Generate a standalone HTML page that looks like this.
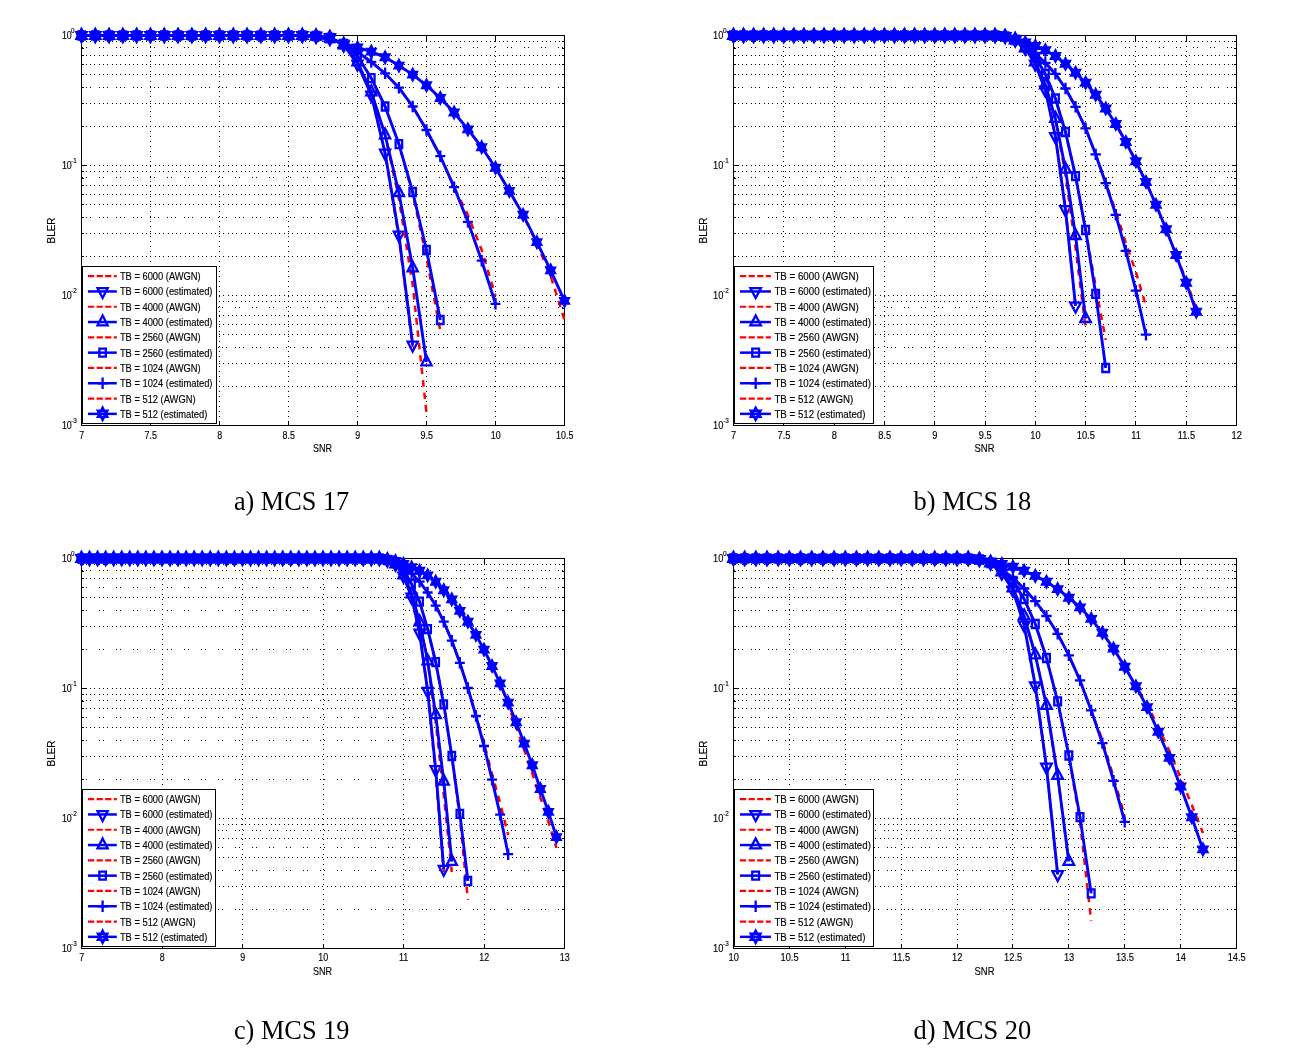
<!DOCTYPE html>
<html><head><meta charset="utf-8"><title>BLER vs SNR</title>
<style>html,body{margin:0;padding:0;background:#fff}body{width:1298px;height:1048px;overflow:hidden;font-family:"Liberation Sans",sans-serif}svg{display:block}#w{will-change:transform;opacity:0.999}</style></head>
<body>
<div id="w">
<svg width="1298" height="1048" viewBox="0 0 1298 1048" font-family="'Liberation Sans', sans-serif" fill="#000">
<rect width="1298" height="1048" fill="#fff"/>
<g>
<path d="M150.5 35.5V425.5M219.5 35.5V425.5M288.5 35.5V425.5M357.5 35.5V425.5M426.5 35.5V425.5M495.5 35.5V425.5" stroke="#000" stroke-width="1" stroke-dasharray="1 4" fill="none" shape-rendering="crispEdges"/>
<path d="M81.5 126.5H564.5M81.5 103.5H564.5M81.5 74.5H564.5M81.5 64.5H564.5M81.5 55.5H564.5M81.5 41.5H564.5M81.5 165.5H564.5M81.5 256.5H564.5M81.5 233.5H564.5M81.5 204.5H564.5M81.5 194.5H564.5M81.5 185.5H564.5M81.5 171.5H564.5M81.5 295.5H564.5M81.5 386.5H564.5M81.5 363.5H564.5M81.5 334.5H564.5M81.5 324.5H564.5M81.5 315.5H564.5M81.5 301.5H564.5" stroke="#000" stroke-width="1" stroke-dasharray="1 3.3" fill="none" shape-rendering="crispEdges"/>
<path d="M81.5 47.5H564.5M81.5 177.5H564.5M81.5 307.5H564.5" stroke="#000" stroke-width="1" stroke-dasharray="1 3.25 1 11.75" fill="none" shape-rendering="crispEdges"/>
<path d="M81.5 87.5H564.5M81.5 217.5H564.5M81.5 347.5H564.5" stroke="#000" stroke-width="1" stroke-dasharray="1 3.25 1 3.25 1 7.5" fill="none" shape-rendering="crispEdges"/>
<path d="M150.5 425.5v-5M150.5 35.5v5M219.5 425.5v-5M219.5 35.5v5M288.5 425.5v-5M288.5 35.5v5M357.5 425.5v-5M357.5 35.5v5M426.5 425.5v-5M426.5 35.5v5M495.5 425.5v-5M495.5 35.5v5M81.5 126.37h2.5M564.5 126.37h-2.5M81.5 103.47h2.5M564.5 103.47h-2.5M81.5 87.23h2.5M564.5 87.23h-2.5M81.5 74.63h2.5M564.5 74.63h-2.5M81.5 64.34h2.5M564.5 64.34h-2.5M81.5 55.64h2.5M564.5 55.64h-2.5M81.5 48.1h2.5M564.5 48.1h-2.5M81.5 41.45h2.5M564.5 41.45h-2.5M81.5 165.5h4.5M564.5 165.5h-4.5M81.5 256.37h2.5M564.5 256.37h-2.5M81.5 233.47h2.5M564.5 233.47h-2.5M81.5 217.23h2.5M564.5 217.23h-2.5M81.5 204.63h2.5M564.5 204.63h-2.5M81.5 194.34h2.5M564.5 194.34h-2.5M81.5 185.64h2.5M564.5 185.64h-2.5M81.5 178.1h2.5M564.5 178.1h-2.5M81.5 171.45h2.5M564.5 171.45h-2.5M81.5 295.5h4.5M564.5 295.5h-4.5M81.5 386.37h2.5M564.5 386.37h-2.5M81.5 363.47h2.5M564.5 363.47h-2.5M81.5 347.23h2.5M564.5 347.23h-2.5M81.5 334.63h2.5M564.5 334.63h-2.5M81.5 324.34h2.5M564.5 324.34h-2.5M81.5 315.64h2.5M564.5 315.64h-2.5M81.5 308.1h2.5M564.5 308.1h-2.5M81.5 301.45h2.5M564.5 301.45h-2.5" stroke="#000" stroke-width="1" fill="none" shape-rendering="crispEdges"/>
<rect x="81.5" y="35.5" width="483" height="390" fill="none" stroke="#000" stroke-width="1" shape-rendering="crispEdges"/>
<path d="M81.5 35.5 L95.3 35.5 L109.1 35.5 L122.9 35.5 L136.7 35.5 L150.5 35.5 L164.3 35.5 L178.1 35.5 L191.9 35.5 L205.7 35.5 L219.5 35.5 L233.3 35.5 L247.1 35.5 L260.9 35.5 L274.7 35.5 L288.5 35.5 L302.3 35.5 L316.1 36 L329.9 37.5 L343.7 45 L357.5 64 L371.3 95 L385.1 153 L398.9 238 L412.7 347" stroke="#ff0000" stroke-width="2.5" stroke-dasharray="6.5 6" fill="none"/>
<path d="M81.5 35.5 L95.3 35.5 L109.1 35.5 L122.9 35.5 L136.7 35.5 L150.5 35.5 L164.3 35.5 L178.1 35.5 L191.9 35.5 L205.7 35.5 L219.5 35.5 L233.3 35.5 L247.1 35.5 L260.9 35.5 L274.7 35.5 L288.5 35.5 L302.3 35.5 L316.1 36 L329.9 37.5 L343.7 45 L357.5 64 L371.3 95 L385.1 153 L398.9 235 L412.7 345" stroke="#0000ff" stroke-width="2.9" fill="none" stroke-linejoin="round"/>
<path d="M81.5 42.1 L76.41 32.2 L86.59 32.2ZM95.3 42.1 L90.21 32.2 L100.39 32.2ZM109.1 42.1 L104.01 32.2 L114.19 32.2ZM122.9 42.1 L117.81 32.2 L127.99 32.2ZM136.7 42.1 L131.61 32.2 L141.79 32.2ZM150.5 42.1 L145.41 32.2 L155.59 32.2ZM164.3 42.1 L159.21 32.2 L169.39 32.2ZM178.1 42.1 L173.01 32.2 L183.19 32.2ZM191.9 42.1 L186.81 32.2 L196.99 32.2ZM205.7 42.1 L200.61 32.2 L210.79 32.2ZM219.5 42.1 L214.41 32.2 L224.59 32.2ZM233.3 42.1 L228.21 32.2 L238.39 32.2ZM247.1 42.1 L242.01 32.2 L252.19 32.2ZM260.9 42.1 L255.81 32.2 L265.99 32.2ZM274.7 42.1 L269.61 32.2 L279.79 32.2ZM288.5 42.1 L283.41 32.2 L293.59 32.2ZM302.3 42.1 L297.21 32.2 L307.39 32.2ZM316.1 42.6 L311.01 32.7 L321.19 32.7ZM329.9 44.1 L324.81 34.2 L334.99 34.2ZM343.7 51.6 L338.61 41.7 L348.79 41.7ZM357.5 70.6 L352.41 60.7 L362.59 60.7ZM371.3 101.6 L366.21 91.7 L376.39 91.7ZM385.1 159.6 L380.01 149.7 L390.19 149.7ZM398.9 241.6 L393.81 231.7 L403.99 231.7ZM412.7 351.6 L407.61 341.7 L417.79 341.7Z" stroke="#0000ff" stroke-width="2.3" fill="none" stroke-miterlimit="10"/>
<path d="M81.5 35.5 L95.3 35.5 L109.1 35.5 L122.9 35.5 L136.7 35.5 L150.5 35.5 L164.3 35.5 L178.1 35.5 L191.9 35.5 L205.7 35.5 L219.5 35.5 L233.3 35.5 L247.1 35.5 L260.9 35.5 L274.7 35.5 L288.5 35.5 L302.3 35.5 L316.1 36 L329.9 37.5 L343.7 45 L357.5 62 L371.3 92 L385.1 135 L398.9 199 L412.7 285 L426.5 413" stroke="#ff0000" stroke-width="2.5" stroke-dasharray="6.5 6" fill="none"/>
<path d="M81.5 35.5 L95.3 35.5 L109.1 35.5 L122.9 35.5 L136.7 35.5 L150.5 35.5 L164.3 35.5 L178.1 35.5 L191.9 35.5 L205.7 35.5 L219.5 35.5 L233.3 35.5 L247.1 35.5 L260.9 35.5 L274.7 35.5 L288.5 35.5 L302.3 35.5 L316.1 36 L329.9 37.5 L343.7 45 L357.5 62 L371.3 92 L385.1 135 L398.9 192.8 L412.7 268 L426.5 362" stroke="#0000ff" stroke-width="2.9" fill="none" stroke-linejoin="round"/>
<path d="M81.5 28.9 L76.41 38.8 L86.59 38.8ZM95.3 28.9 L90.21 38.8 L100.39 38.8ZM109.1 28.9 L104.01 38.8 L114.19 38.8ZM122.9 28.9 L117.81 38.8 L127.99 38.8ZM136.7 28.9 L131.61 38.8 L141.79 38.8ZM150.5 28.9 L145.41 38.8 L155.59 38.8ZM164.3 28.9 L159.21 38.8 L169.39 38.8ZM178.1 28.9 L173.01 38.8 L183.19 38.8ZM191.9 28.9 L186.81 38.8 L196.99 38.8ZM205.7 28.9 L200.61 38.8 L210.79 38.8ZM219.5 28.9 L214.41 38.8 L224.59 38.8ZM233.3 28.9 L228.21 38.8 L238.39 38.8ZM247.1 28.9 L242.01 38.8 L252.19 38.8ZM260.9 28.9 L255.81 38.8 L265.99 38.8ZM274.7 28.9 L269.61 38.8 L279.79 38.8ZM288.5 28.9 L283.41 38.8 L293.59 38.8ZM302.3 28.9 L297.21 38.8 L307.39 38.8ZM316.1 29.4 L311.01 39.3 L321.19 39.3ZM329.9 30.9 L324.81 40.8 L334.99 40.8ZM343.7 38.4 L338.61 48.3 L348.79 48.3ZM357.5 55.4 L352.41 65.3 L362.59 65.3ZM371.3 85.4 L366.21 95.3 L376.39 95.3ZM385.1 128.4 L380.01 138.3 L390.19 138.3ZM398.9 186.2 L393.81 196.1 L403.99 196.1ZM412.7 261.4 L407.61 271.3 L417.79 271.3ZM426.5 355.4 L421.41 365.3 L431.59 365.3Z" stroke="#0000ff" stroke-width="2.3" fill="none" stroke-miterlimit="10"/>
<path d="M81.5 35.5 L95.3 35.5 L109.1 35.5 L122.9 35.5 L136.7 35.5 L150.5 35.5 L164.3 35.5 L178.1 35.5 L191.9 35.5 L205.7 35.5 L219.5 35.5 L233.3 35.5 L247.1 35.5 L260.9 35.5 L274.7 35.5 L288.5 35.5 L302.3 35.5 L316.1 36 L329.9 38 L343.7 44 L357.5 56 L371.3 78.2 L385.1 106.5 L398.9 144.1 L412.7 194 L426.5 258 L440.3 331" stroke="#ff0000" stroke-width="2.5" stroke-dasharray="6.5 6" fill="none"/>
<path d="M81.5 35.5 L95.3 35.5 L109.1 35.5 L122.9 35.5 L136.7 35.5 L150.5 35.5 L164.3 35.5 L178.1 35.5 L191.9 35.5 L205.7 35.5 L219.5 35.5 L233.3 35.5 L247.1 35.5 L260.9 35.5 L274.7 35.5 L288.5 35.5 L302.3 35.5 L316.1 36 L329.9 38 L343.7 44 L357.5 56 L371.3 78.2 L385.1 106.5 L398.9 144.1 L412.7 192 L426.5 250 L440.3 320" stroke="#0000ff" stroke-width="2.9" fill="none" stroke-linejoin="round"/>
<path d="M78.25 31.5h6.5v8h-6.5ZM92.05 31.5h6.5v8h-6.5ZM105.85 31.5h6.5v8h-6.5ZM119.65 31.5h6.5v8h-6.5ZM133.45 31.5h6.5v8h-6.5ZM147.25 31.5h6.5v8h-6.5ZM161.05 31.5h6.5v8h-6.5ZM174.85 31.5h6.5v8h-6.5ZM188.65 31.5h6.5v8h-6.5ZM202.45 31.5h6.5v8h-6.5ZM216.25 31.5h6.5v8h-6.5ZM230.05 31.5h6.5v8h-6.5ZM243.85 31.5h6.5v8h-6.5ZM257.65 31.5h6.5v8h-6.5ZM271.45 31.5h6.5v8h-6.5ZM285.25 31.5h6.5v8h-6.5ZM299.05 31.5h6.5v8h-6.5ZM312.85 32h6.5v8h-6.5ZM326.65 34h6.5v8h-6.5ZM340.45 40h6.5v8h-6.5ZM354.25 52h6.5v8h-6.5ZM368.05 74.2h6.5v8h-6.5ZM381.85 102.5h6.5v8h-6.5ZM395.65 140.1h6.5v8h-6.5ZM409.45 188h6.5v8h-6.5ZM423.25 246h6.5v8h-6.5ZM437.05 316h6.5v8h-6.5Z" stroke="#0000ff" stroke-width="2.3" fill="none" stroke-miterlimit="10"/>
<path d="M81.5 35.5 L95.3 35.5 L109.1 35.5 L122.9 35.5 L136.7 35.5 L150.5 35.5 L164.3 35.5 L178.1 35.5 L191.9 35.5 L205.7 35.5 L219.5 35.5 L233.3 35.5 L247.1 35.5 L260.9 35.5 L274.7 35.5 L288.5 35.5 L302.3 35.5 L316.1 36.5 L329.9 39 L343.7 44 L357.5 52 L371.3 62 L385.1 73.3 L398.9 87.7 L412.7 106.5 L426.5 130 L440.3 156.2 L454.1 187.1 L467.9 215 L481.7 250 L495.5 296" stroke="#ff0000" stroke-width="2.5" stroke-dasharray="6.5 6" fill="none"/>
<path d="M81.5 35.5 L95.3 35.5 L109.1 35.5 L122.9 35.5 L136.7 35.5 L150.5 35.5 L164.3 35.5 L178.1 35.5 L191.9 35.5 L205.7 35.5 L219.5 35.5 L233.3 35.5 L247.1 35.5 L260.9 35.5 L274.7 35.5 L288.5 35.5 L302.3 35.5 L316.1 36.5 L329.9 39 L343.7 44 L357.5 52 L371.3 62 L385.1 73.3 L398.9 87.7 L412.7 106.5 L426.5 130 L440.3 156.2 L454.1 187.1 L467.9 221.8 L481.7 260.7 L495.5 303.8" stroke="#0000ff" stroke-width="2.9" fill="none" stroke-linejoin="round"/>
<path d="M76.5 35.5h10M81.5 29.8v11.4M90.3 35.5h10M95.3 29.8v11.4M104.1 35.5h10M109.1 29.8v11.4M117.9 35.5h10M122.9 29.8v11.4M131.7 35.5h10M136.7 29.8v11.4M145.5 35.5h10M150.5 29.8v11.4M159.3 35.5h10M164.3 29.8v11.4M173.1 35.5h10M178.1 29.8v11.4M186.9 35.5h10M191.9 29.8v11.4M200.7 35.5h10M205.7 29.8v11.4M214.5 35.5h10M219.5 29.8v11.4M228.3 35.5h10M233.3 29.8v11.4M242.1 35.5h10M247.1 29.8v11.4M255.9 35.5h10M260.9 29.8v11.4M269.7 35.5h10M274.7 29.8v11.4M283.5 35.5h10M288.5 29.8v11.4M297.3 35.5h10M302.3 29.8v11.4M311.1 36.5h10M316.1 30.8v11.4M324.9 39h10M329.9 33.3v11.4M338.7 44h10M343.7 38.3v11.4M352.5 52h10M357.5 46.3v11.4M366.3 62h10M371.3 56.3v11.4M380.1 73.3h10M385.1 67.6v11.4M393.9 87.7h10M398.9 82v11.4M407.7 106.5h10M412.7 100.8v11.4M421.5 130h10M426.5 124.3v11.4M435.3 156.2h10M440.3 150.5v11.4M449.1 187.1h10M454.1 181.4v11.4M462.9 221.8h10M467.9 216.1v11.4M476.7 260.7h10M481.7 255v11.4M490.5 303.8h10M495.5 298.1v11.4" stroke="#0000ff" stroke-width="2.3" fill="none" stroke-miterlimit="10"/>
<path d="M81.5 35.5 L95.3 35.5 L109.1 35.5 L122.9 35.5 L136.7 35.5 L150.5 35.5 L164.3 35.5 L178.1 35.5 L191.9 35.5 L205.7 35.5 L219.5 35.5 L233.3 35.5 L247.1 35.5 L260.9 35.5 L274.7 35.5 L288.5 35.5 L302.3 35.5 L316.1 36.9 L329.9 39.3 L343.7 43.5 L357.5 47.5 L371.3 51.6 L385.1 57.3 L398.9 65.6 L412.7 74.6 L426.5 85.3 L440.3 98 L454.1 112.5 L467.9 129.4 L481.7 147.2 L495.5 167.8 L509.3 190.9 L523.1 214.8 L536.9 244 L550.7 276 L564.5 320" stroke="#ff0000" stroke-width="2.5" stroke-dasharray="6.5 6" fill="none"/>
<path d="M81.5 35.5 L95.3 35.5 L109.1 35.5 L122.9 35.5 L136.7 35.5 L150.5 35.5 L164.3 35.5 L178.1 35.5 L191.9 35.5 L205.7 35.5 L219.5 35.5 L233.3 35.5 L247.1 35.5 L260.9 35.5 L274.7 35.5 L288.5 35.5 L302.3 35.5 L316.1 36.9 L329.9 39.3 L343.7 43.5 L357.5 47.5 L371.3 51.6 L385.1 57.3 L398.9 65.6 L412.7 74.6 L426.5 85.3 L440.3 98 L454.1 112.5 L467.9 129.4 L481.7 147.2 L495.5 167.8 L509.3 190.9 L523.1 214.8 L536.9 242.1 L550.7 270.4 L564.5 300.9" stroke="#0000ff" stroke-width="2.9" fill="none" stroke-linejoin="round"/>
<path d="M81.5 29.9 L82.94 32.7 L85.82 32.7 L84.38 35.5 L85.82 38.3 L82.94 38.3 L81.5 41.1 L80.06 38.3 L77.18 38.3 L78.62 35.5 L77.18 32.7 L80.06 32.7ZM95.3 29.9 L96.74 32.7 L99.62 32.7 L98.18 35.5 L99.62 38.3 L96.74 38.3 L95.3 41.1 L93.86 38.3 L90.98 38.3 L92.42 35.5 L90.98 32.7 L93.86 32.7ZM109.1 29.9 L110.54 32.7 L113.42 32.7 L111.98 35.5 L113.42 38.3 L110.54 38.3 L109.1 41.1 L107.66 38.3 L104.78 38.3 L106.22 35.5 L104.78 32.7 L107.66 32.7ZM122.9 29.9 L124.34 32.7 L127.22 32.7 L125.78 35.5 L127.22 38.3 L124.34 38.3 L122.9 41.1 L121.46 38.3 L118.58 38.3 L120.02 35.5 L118.58 32.7 L121.46 32.7ZM136.7 29.9 L138.14 32.7 L141.02 32.7 L139.58 35.5 L141.02 38.3 L138.14 38.3 L136.7 41.1 L135.26 38.3 L132.38 38.3 L133.82 35.5 L132.38 32.7 L135.26 32.7ZM150.5 29.9 L151.94 32.7 L154.82 32.7 L153.38 35.5 L154.82 38.3 L151.94 38.3 L150.5 41.1 L149.06 38.3 L146.18 38.3 L147.62 35.5 L146.18 32.7 L149.06 32.7ZM164.3 29.9 L165.74 32.7 L168.62 32.7 L167.18 35.5 L168.62 38.3 L165.74 38.3 L164.3 41.1 L162.86 38.3 L159.98 38.3 L161.42 35.5 L159.98 32.7 L162.86 32.7ZM178.1 29.9 L179.54 32.7 L182.42 32.7 L180.98 35.5 L182.42 38.3 L179.54 38.3 L178.1 41.1 L176.66 38.3 L173.78 38.3 L175.22 35.5 L173.78 32.7 L176.66 32.7ZM191.9 29.9 L193.34 32.7 L196.22 32.7 L194.78 35.5 L196.22 38.3 L193.34 38.3 L191.9 41.1 L190.46 38.3 L187.58 38.3 L189.02 35.5 L187.58 32.7 L190.46 32.7ZM205.7 29.9 L207.14 32.7 L210.02 32.7 L208.58 35.5 L210.02 38.3 L207.14 38.3 L205.7 41.1 L204.26 38.3 L201.38 38.3 L202.82 35.5 L201.38 32.7 L204.26 32.7ZM219.5 29.9 L220.94 32.7 L223.82 32.7 L222.38 35.5 L223.82 38.3 L220.94 38.3 L219.5 41.1 L218.06 38.3 L215.18 38.3 L216.62 35.5 L215.18 32.7 L218.06 32.7ZM233.3 29.9 L234.74 32.7 L237.62 32.7 L236.18 35.5 L237.62 38.3 L234.74 38.3 L233.3 41.1 L231.86 38.3 L228.98 38.3 L230.42 35.5 L228.98 32.7 L231.86 32.7ZM247.1 29.9 L248.54 32.7 L251.42 32.7 L249.98 35.5 L251.42 38.3 L248.54 38.3 L247.1 41.1 L245.66 38.3 L242.78 38.3 L244.22 35.5 L242.78 32.7 L245.66 32.7ZM260.9 29.9 L262.34 32.7 L265.22 32.7 L263.78 35.5 L265.22 38.3 L262.34 38.3 L260.9 41.1 L259.46 38.3 L256.58 38.3 L258.02 35.5 L256.58 32.7 L259.46 32.7ZM274.7 29.9 L276.14 32.7 L279.02 32.7 L277.58 35.5 L279.02 38.3 L276.14 38.3 L274.7 41.1 L273.26 38.3 L270.38 38.3 L271.82 35.5 L270.38 32.7 L273.26 32.7ZM288.5 29.9 L289.94 32.7 L292.82 32.7 L291.38 35.5 L292.82 38.3 L289.94 38.3 L288.5 41.1 L287.06 38.3 L284.18 38.3 L285.62 35.5 L284.18 32.7 L287.06 32.7ZM302.3 29.9 L303.74 32.7 L306.62 32.7 L305.18 35.5 L306.62 38.3 L303.74 38.3 L302.3 41.1 L300.86 38.3 L297.98 38.3 L299.42 35.5 L297.98 32.7 L300.86 32.7ZM316.1 31.3 L317.54 34.1 L320.42 34.1 L318.98 36.9 L320.42 39.7 L317.54 39.7 L316.1 42.5 L314.66 39.7 L311.78 39.7 L313.22 36.9 L311.78 34.1 L314.66 34.1ZM329.9 33.7 L331.34 36.5 L334.22 36.5 L332.78 39.3 L334.22 42.1 L331.34 42.1 L329.9 44.9 L328.46 42.1 L325.58 42.1 L327.02 39.3 L325.58 36.5 L328.46 36.5ZM343.7 37.9 L345.14 40.7 L348.02 40.7 L346.58 43.5 L348.02 46.3 L345.14 46.3 L343.7 49.1 L342.26 46.3 L339.38 46.3 L340.82 43.5 L339.38 40.7 L342.26 40.7ZM357.5 41.9 L358.94 44.7 L361.82 44.7 L360.38 47.5 L361.82 50.3 L358.94 50.3 L357.5 53.1 L356.06 50.3 L353.18 50.3 L354.62 47.5 L353.18 44.7 L356.06 44.7ZM371.3 46 L372.74 48.8 L375.62 48.8 L374.18 51.6 L375.62 54.4 L372.74 54.4 L371.3 57.2 L369.86 54.4 L366.98 54.4 L368.42 51.6 L366.98 48.8 L369.86 48.8ZM385.1 51.7 L386.54 54.5 L389.42 54.5 L387.98 57.3 L389.42 60.1 L386.54 60.1 L385.1 62.9 L383.66 60.1 L380.78 60.1 L382.22 57.3 L380.78 54.5 L383.66 54.5ZM398.9 60 L400.34 62.8 L403.22 62.8 L401.78 65.6 L403.22 68.4 L400.34 68.4 L398.9 71.2 L397.46 68.4 L394.58 68.4 L396.02 65.6 L394.58 62.8 L397.46 62.8ZM412.7 69 L414.14 71.8 L417.02 71.8 L415.58 74.6 L417.02 77.4 L414.14 77.4 L412.7 80.2 L411.26 77.4 L408.38 77.4 L409.82 74.6 L408.38 71.8 L411.26 71.8ZM426.5 79.7 L427.94 82.5 L430.82 82.5 L429.38 85.3 L430.82 88.1 L427.94 88.1 L426.5 90.9 L425.06 88.1 L422.18 88.1 L423.62 85.3 L422.18 82.5 L425.06 82.5ZM440.3 92.4 L441.74 95.2 L444.62 95.2 L443.18 98 L444.62 100.8 L441.74 100.8 L440.3 103.6 L438.86 100.8 L435.98 100.8 L437.42 98 L435.98 95.2 L438.86 95.2ZM454.1 106.9 L455.54 109.7 L458.42 109.7 L456.98 112.5 L458.42 115.3 L455.54 115.3 L454.1 118.1 L452.66 115.3 L449.78 115.3 L451.22 112.5 L449.78 109.7 L452.66 109.7ZM467.9 123.8 L469.34 126.6 L472.22 126.6 L470.78 129.4 L472.22 132.2 L469.34 132.2 L467.9 135 L466.46 132.2 L463.58 132.2 L465.02 129.4 L463.58 126.6 L466.46 126.6ZM481.7 141.6 L483.14 144.4 L486.02 144.4 L484.58 147.2 L486.02 150 L483.14 150 L481.7 152.8 L480.26 150 L477.38 150 L478.82 147.2 L477.38 144.4 L480.26 144.4ZM495.5 162.2 L496.94 165 L499.82 165 L498.38 167.8 L499.82 170.6 L496.94 170.6 L495.5 173.4 L494.06 170.6 L491.18 170.6 L492.62 167.8 L491.18 165 L494.06 165ZM509.3 185.3 L510.74 188.1 L513.62 188.1 L512.18 190.9 L513.62 193.7 L510.74 193.7 L509.3 196.5 L507.86 193.7 L504.98 193.7 L506.42 190.9 L504.98 188.1 L507.86 188.1ZM523.1 209.2 L524.54 212 L527.42 212 L525.98 214.8 L527.42 217.6 L524.54 217.6 L523.1 220.4 L521.66 217.6 L518.78 217.6 L520.22 214.8 L518.78 212 L521.66 212ZM536.9 236.5 L538.34 239.3 L541.22 239.3 L539.78 242.1 L541.22 244.9 L538.34 244.9 L536.9 247.7 L535.46 244.9 L532.58 244.9 L534.02 242.1 L532.58 239.3 L535.46 239.3ZM550.7 264.8 L552.14 267.6 L555.02 267.6 L553.58 270.4 L555.02 273.2 L552.14 273.2 L550.7 276 L549.26 273.2 L546.38 273.2 L547.82 270.4 L546.38 267.6 L549.26 267.6ZM564.5 295.3 L565.94 298.1 L568.82 298.1 L567.38 300.9 L568.82 303.7 L565.94 303.7 L564.5 306.5 L563.06 303.7 L560.18 303.7 L561.62 300.9 L560.18 298.1 L563.06 298.1Z" stroke="#0000ff" stroke-width="2.3" fill="#0000ff" stroke-miterlimit="10"/>
<rect x="82.5" y="266.5" width="134" height="157" fill="#fff" stroke="#000" stroke-width="1" shape-rendering="crispEdges"/>
<path d="M88 276.15H116.8" stroke="#ff0000" stroke-width="2.2" stroke-dasharray="6.2 2.4" fill="none"/>
<text transform="translate(119.9 280.15) scale(0.85 1)" font-size="11" text-anchor="start" stroke="#000" stroke-width="0.15" >TB = 6000 (AWGN)</text>
<path d="M88 291.45H116.8" stroke="#0000ff" stroke-width="2.5" fill="none"/>
<path d="M102.6 298.05 L97.51 288.15 L107.69 288.15Z" stroke="#0000ff" stroke-width="2.3" fill="none" stroke-miterlimit="10"/>
<text transform="translate(119.9 295.45) scale(0.85 1)" font-size="11" text-anchor="start" stroke="#000" stroke-width="0.15" >TB = 6000 (estimated)</text>
<path d="M88 306.75H116.8" stroke="#ff0000" stroke-width="2.2" stroke-dasharray="6.2 2.4" fill="none"/>
<text transform="translate(119.9 310.75) scale(0.85 1)" font-size="11" text-anchor="start" stroke="#000" stroke-width="0.15" >TB = 4000 (AWGN)</text>
<path d="M88 322.05H116.8" stroke="#0000ff" stroke-width="2.5" fill="none"/>
<path d="M102.6 315.45 L97.51 325.35 L107.69 325.35Z" stroke="#0000ff" stroke-width="2.3" fill="none" stroke-miterlimit="10"/>
<text transform="translate(119.9 326.05) scale(0.85 1)" font-size="11" text-anchor="start" stroke="#000" stroke-width="0.15" >TB = 4000 (estimated)</text>
<path d="M88 337.35H116.8" stroke="#ff0000" stroke-width="2.2" stroke-dasharray="6.2 2.4" fill="none"/>
<text transform="translate(119.9 341.35) scale(0.85 1)" font-size="11" text-anchor="start" stroke="#000" stroke-width="0.15" >TB = 2560 (AWGN)</text>
<path d="M88 352.65H116.8" stroke="#0000ff" stroke-width="2.5" fill="none"/>
<path d="M99.35 348.65h6.5v8h-6.5Z" stroke="#0000ff" stroke-width="2.3" fill="none" stroke-miterlimit="10"/>
<text transform="translate(119.9 356.65) scale(0.85 1)" font-size="11" text-anchor="start" stroke="#000" stroke-width="0.15" >TB = 2560 (estimated)</text>
<path d="M88 367.95H116.8" stroke="#ff0000" stroke-width="2.2" stroke-dasharray="6.2 2.4" fill="none"/>
<text transform="translate(119.9 371.95) scale(0.85 1)" font-size="11" text-anchor="start" stroke="#000" stroke-width="0.15" >TB = 1024 (AWGN)</text>
<path d="M88 383.25H116.8" stroke="#0000ff" stroke-width="2.5" fill="none"/>
<path d="M97.6 383.25h10M102.6 377.55v11.4" stroke="#0000ff" stroke-width="2.3" fill="none" stroke-miterlimit="10"/>
<text transform="translate(119.9 387.25) scale(0.85 1)" font-size="11" text-anchor="start" stroke="#000" stroke-width="0.15" >TB = 1024 (estimated)</text>
<path d="M88 398.55H116.8" stroke="#ff0000" stroke-width="2.2" stroke-dasharray="6.2 2.4" fill="none"/>
<text transform="translate(119.9 402.55) scale(0.85 1)" font-size="11" text-anchor="start" stroke="#000" stroke-width="0.15" >TB = 512 (AWGN)</text>
<path d="M88 413.85H116.8" stroke="#0000ff" stroke-width="2.5" fill="none"/>
<path d="M102.6 408.25 L104.04 411.05 L106.92 411.05 L105.48 413.85 L106.92 416.65 L104.04 416.65 L102.6 419.45 L101.16 416.65 L98.28 416.65 L99.72 413.85 L98.28 411.05 L101.16 411.05Z" stroke="#0000ff" stroke-width="2.9" fill="none" stroke-miterlimit="10"/>
<text transform="translate(119.9 417.85) scale(0.85 1)" font-size="11" text-anchor="start" stroke="#000" stroke-width="0.15" >TB = 512 (estimated)</text>
<text transform="translate(81.7 439) scale(0.81 1)" font-size="11" text-anchor="middle" stroke="#000" stroke-width="0.15" >7</text>
<text transform="translate(150.7 439) scale(0.81 1)" font-size="11" text-anchor="middle" stroke="#000" stroke-width="0.15" >7.5</text>
<text transform="translate(219.7 439) scale(0.81 1)" font-size="11" text-anchor="middle" stroke="#000" stroke-width="0.15" >8</text>
<text transform="translate(288.7 439) scale(0.81 1)" font-size="11" text-anchor="middle" stroke="#000" stroke-width="0.15" >8.5</text>
<text transform="translate(357.7 439) scale(0.81 1)" font-size="11" text-anchor="middle" stroke="#000" stroke-width="0.15" >9</text>
<text transform="translate(426.7 439) scale(0.81 1)" font-size="11" text-anchor="middle" stroke="#000" stroke-width="0.15" >9.5</text>
<text transform="translate(495.7 439) scale(0.81 1)" font-size="11" text-anchor="middle" stroke="#000" stroke-width="0.15" >10</text>
<text transform="translate(564.7 439) scale(0.81 1)" font-size="11" text-anchor="middle" stroke="#000" stroke-width="0.15" >10.5</text>
<text transform="translate(61.9 39) scale(0.81 1)" font-size="11" text-anchor="start" stroke="#000" stroke-width="0.15" >10</text>
<text transform="translate(71.1 33) scale(0.85 1)" font-size="7.5" text-anchor="start" stroke="#000" stroke-width="0.15" >0</text>
<text transform="translate(61.9 169) scale(0.81 1)" font-size="11" text-anchor="start" stroke="#000" stroke-width="0.15" >10</text>
<text transform="translate(71.1 163) scale(0.85 1)" font-size="7.5" text-anchor="start" stroke="#000" stroke-width="0.15" >-1</text>
<text transform="translate(61.9 299) scale(0.81 1)" font-size="11" text-anchor="start" stroke="#000" stroke-width="0.15" >10</text>
<text transform="translate(71.1 293) scale(0.85 1)" font-size="7.5" text-anchor="start" stroke="#000" stroke-width="0.15" >-2</text>
<text transform="translate(61.9 429) scale(0.81 1)" font-size="11" text-anchor="start" stroke="#000" stroke-width="0.15" >10</text>
<text transform="translate(71.1 423) scale(0.85 1)" font-size="7.5" text-anchor="start" stroke="#000" stroke-width="0.15" >-3</text>
<text transform="translate(322.5 452) scale(0.82 1)" font-size="11" text-anchor="middle" stroke="#000" stroke-width="0.15" >SNR</text>
<text transform="translate(55 230.5) rotate(-90) scale(0.9 1)" font-size="11" text-anchor="middle" stroke="#000" stroke-width="0.15">BLER</text>
<text x="233.9" y="510.1" font-family="'Liberation Serif', serif" font-size="26.3" textLength="115.3" lengthAdjust="spacingAndGlyphs">a) MCS 17</text>
</g>
<g>
<path d="M783.5 35.5V425.5M834.5 35.5V425.5M884.5 35.5V425.5M934.5 35.5V425.5M985.5 35.5V425.5M1035.5 35.5V425.5M1085.5 35.5V425.5M1135.5 35.5V425.5M1186.5 35.5V425.5" stroke="#000" stroke-width="1" stroke-dasharray="1 4" fill="none" shape-rendering="crispEdges"/>
<path d="M733.5 126.5H1236.5M733.5 103.5H1236.5M733.5 74.5H1236.5M733.5 64.5H1236.5M733.5 55.5H1236.5M733.5 41.5H1236.5M733.5 165.5H1236.5M733.5 256.5H1236.5M733.5 233.5H1236.5M733.5 204.5H1236.5M733.5 194.5H1236.5M733.5 185.5H1236.5M733.5 171.5H1236.5M733.5 295.5H1236.5M733.5 386.5H1236.5M733.5 363.5H1236.5M733.5 334.5H1236.5M733.5 324.5H1236.5M733.5 315.5H1236.5M733.5 301.5H1236.5" stroke="#000" stroke-width="1" stroke-dasharray="1 3.3" fill="none" shape-rendering="crispEdges"/>
<path d="M733.5 47.5H1236.5M733.5 177.5H1236.5M733.5 307.5H1236.5" stroke="#000" stroke-width="1" stroke-dasharray="1 3.25 1 11.75" fill="none" shape-rendering="crispEdges"/>
<path d="M733.5 87.5H1236.5M733.5 217.5H1236.5M733.5 347.5H1236.5" stroke="#000" stroke-width="1" stroke-dasharray="1 3.25 1 3.25 1 7.5" fill="none" shape-rendering="crispEdges"/>
<path d="M783.8 425.5v-5M783.8 35.5v5M834.1 425.5v-5M834.1 35.5v5M884.4 425.5v-5M884.4 35.5v5M934.7 425.5v-5M934.7 35.5v5M985 425.5v-5M985 35.5v5M1035.3 425.5v-5M1035.3 35.5v5M1085.6 425.5v-5M1085.6 35.5v5M1135.9 425.5v-5M1135.9 35.5v5M1186.2 425.5v-5M1186.2 35.5v5M733.5 126.37h2.5M1236.5 126.37h-2.5M733.5 103.47h2.5M1236.5 103.47h-2.5M733.5 87.23h2.5M1236.5 87.23h-2.5M733.5 74.63h2.5M1236.5 74.63h-2.5M733.5 64.34h2.5M1236.5 64.34h-2.5M733.5 55.64h2.5M1236.5 55.64h-2.5M733.5 48.1h2.5M1236.5 48.1h-2.5M733.5 41.45h2.5M1236.5 41.45h-2.5M733.5 165.5h4.5M1236.5 165.5h-4.5M733.5 256.37h2.5M1236.5 256.37h-2.5M733.5 233.47h2.5M1236.5 233.47h-2.5M733.5 217.23h2.5M1236.5 217.23h-2.5M733.5 204.63h2.5M1236.5 204.63h-2.5M733.5 194.34h2.5M1236.5 194.34h-2.5M733.5 185.64h2.5M1236.5 185.64h-2.5M733.5 178.1h2.5M1236.5 178.1h-2.5M733.5 171.45h2.5M1236.5 171.45h-2.5M733.5 295.5h4.5M1236.5 295.5h-4.5M733.5 386.37h2.5M1236.5 386.37h-2.5M733.5 363.47h2.5M1236.5 363.47h-2.5M733.5 347.23h2.5M1236.5 347.23h-2.5M733.5 334.63h2.5M1236.5 334.63h-2.5M733.5 324.34h2.5M1236.5 324.34h-2.5M733.5 315.64h2.5M1236.5 315.64h-2.5M733.5 308.1h2.5M1236.5 308.1h-2.5M733.5 301.45h2.5M1236.5 301.45h-2.5" stroke="#000" stroke-width="1" fill="none" shape-rendering="crispEdges"/>
<rect x="733.5" y="35.5" width="503" height="390" fill="none" stroke="#000" stroke-width="1" shape-rendering="crispEdges"/>
<path d="M733.5 35.5 L743.56 35.5 L753.62 35.5 L763.68 35.5 L773.74 35.5 L783.8 35.5 L793.86 35.5 L803.92 35.5 L813.98 35.5 L824.04 35.5 L834.1 35.5 L844.16 35.5 L854.22 35.5 L864.28 35.5 L874.34 35.5 L884.4 35.5 L894.46 35.5 L904.52 35.5 L914.58 35.5 L924.64 35.5 L934.7 35.5 L944.76 35.5 L954.82 35.5 L964.88 35.5 L974.94 35.5 L985 35.5 L995.06 35.5 L1005.12 36.5 L1015.18 40 L1025.24 48 L1035.3 64 L1045.36 90 L1055.42 136.5 L1065.48 209.5 L1075.54 305.9" stroke="#ff0000" stroke-width="2.5" stroke-dasharray="6.5 6" fill="none"/>
<path d="M733.5 35.5 L743.56 35.5 L753.62 35.5 L763.68 35.5 L773.74 35.5 L783.8 35.5 L793.86 35.5 L803.92 35.5 L813.98 35.5 L824.04 35.5 L834.1 35.5 L844.16 35.5 L854.22 35.5 L864.28 35.5 L874.34 35.5 L884.4 35.5 L894.46 35.5 L904.52 35.5 L914.58 35.5 L924.64 35.5 L934.7 35.5 L944.76 35.5 L954.82 35.5 L964.88 35.5 L974.94 35.5 L985 35.5 L995.06 35.5 L1005.12 36.5 L1015.18 40 L1025.24 48 L1035.3 64 L1045.36 90 L1055.42 136.5 L1065.48 209.5 L1075.54 305.9" stroke="#0000ff" stroke-width="2.9" fill="none" stroke-linejoin="round"/>
<path d="M733.5 42.1 L728.2 32.2 L738.8 32.2ZM743.56 42.1 L738.26 32.2 L748.86 32.2ZM753.62 42.1 L748.32 32.2 L758.92 32.2ZM763.68 42.1 L758.38 32.2 L768.98 32.2ZM773.74 42.1 L768.44 32.2 L779.04 32.2ZM783.8 42.1 L778.5 32.2 L789.1 32.2ZM793.86 42.1 L788.56 32.2 L799.16 32.2ZM803.92 42.1 L798.62 32.2 L809.22 32.2ZM813.98 42.1 L808.68 32.2 L819.28 32.2ZM824.04 42.1 L818.74 32.2 L829.34 32.2ZM834.1 42.1 L828.8 32.2 L839.4 32.2ZM844.16 42.1 L838.86 32.2 L849.46 32.2ZM854.22 42.1 L848.92 32.2 L859.52 32.2ZM864.28 42.1 L858.98 32.2 L869.58 32.2ZM874.34 42.1 L869.04 32.2 L879.64 32.2ZM884.4 42.1 L879.1 32.2 L889.7 32.2ZM894.46 42.1 L889.16 32.2 L899.76 32.2ZM904.52 42.1 L899.22 32.2 L909.82 32.2ZM914.58 42.1 L909.28 32.2 L919.88 32.2ZM924.64 42.1 L919.34 32.2 L929.94 32.2ZM934.7 42.1 L929.4 32.2 L940 32.2ZM944.76 42.1 L939.46 32.2 L950.06 32.2ZM954.82 42.1 L949.52 32.2 L960.12 32.2ZM964.88 42.1 L959.58 32.2 L970.18 32.2ZM974.94 42.1 L969.64 32.2 L980.24 32.2ZM985 42.1 L979.7 32.2 L990.3 32.2ZM995.06 42.1 L989.76 32.2 L1000.36 32.2ZM1005.12 43.1 L999.82 33.2 L1010.42 33.2ZM1015.18 46.6 L1009.88 36.7 L1020.48 36.7ZM1025.24 54.6 L1019.94 44.7 L1030.54 44.7ZM1035.3 70.6 L1030 60.7 L1040.6 60.7ZM1045.36 96.6 L1040.06 86.7 L1050.66 86.7ZM1055.42 143.1 L1050.12 133.2 L1060.72 133.2ZM1065.48 216.1 L1060.18 206.2 L1070.78 206.2ZM1075.54 312.5 L1070.24 302.6 L1080.84 302.6Z" stroke="#0000ff" stroke-width="2.3" fill="none" stroke-miterlimit="10"/>
<path d="M733.5 35.5 L743.56 35.5 L753.62 35.5 L763.68 35.5 L773.74 35.5 L783.8 35.5 L793.86 35.5 L803.92 35.5 L813.98 35.5 L824.04 35.5 L834.1 35.5 L844.16 35.5 L854.22 35.5 L864.28 35.5 L874.34 35.5 L884.4 35.5 L894.46 35.5 L904.52 35.5 L914.58 35.5 L924.64 35.5 L934.7 35.5 L944.76 35.5 L954.82 35.5 L964.88 35.5 L974.94 35.5 L985 35.5 L995.06 35.5 L1005.12 36.5 L1015.18 40 L1025.24 48 L1035.3 62 L1045.36 85 L1055.42 118.6 L1065.48 175 L1075.54 248 L1085.6 328" stroke="#ff0000" stroke-width="2.5" stroke-dasharray="6.5 6" fill="none"/>
<path d="M733.5 35.5 L743.56 35.5 L753.62 35.5 L763.68 35.5 L773.74 35.5 L783.8 35.5 L793.86 35.5 L803.92 35.5 L813.98 35.5 L824.04 35.5 L834.1 35.5 L844.16 35.5 L854.22 35.5 L864.28 35.5 L874.34 35.5 L884.4 35.5 L894.46 35.5 L904.52 35.5 L914.58 35.5 L924.64 35.5 L934.7 35.5 L944.76 35.5 L954.82 35.5 L964.88 35.5 L974.94 35.5 L985 35.5 L995.06 35.5 L1005.12 36.5 L1015.18 40 L1025.24 48 L1035.3 62 L1045.36 85 L1055.42 118.6 L1065.48 169.4 L1075.54 235.7 L1085.6 318.7" stroke="#0000ff" stroke-width="2.9" fill="none" stroke-linejoin="round"/>
<path d="M733.5 28.9 L728.2 38.8 L738.8 38.8ZM743.56 28.9 L738.26 38.8 L748.86 38.8ZM753.62 28.9 L748.32 38.8 L758.92 38.8ZM763.68 28.9 L758.38 38.8 L768.98 38.8ZM773.74 28.9 L768.44 38.8 L779.04 38.8ZM783.8 28.9 L778.5 38.8 L789.1 38.8ZM793.86 28.9 L788.56 38.8 L799.16 38.8ZM803.92 28.9 L798.62 38.8 L809.22 38.8ZM813.98 28.9 L808.68 38.8 L819.28 38.8ZM824.04 28.9 L818.74 38.8 L829.34 38.8ZM834.1 28.9 L828.8 38.8 L839.4 38.8ZM844.16 28.9 L838.86 38.8 L849.46 38.8ZM854.22 28.9 L848.92 38.8 L859.52 38.8ZM864.28 28.9 L858.98 38.8 L869.58 38.8ZM874.34 28.9 L869.04 38.8 L879.64 38.8ZM884.4 28.9 L879.1 38.8 L889.7 38.8ZM894.46 28.9 L889.16 38.8 L899.76 38.8ZM904.52 28.9 L899.22 38.8 L909.82 38.8ZM914.58 28.9 L909.28 38.8 L919.88 38.8ZM924.64 28.9 L919.34 38.8 L929.94 38.8ZM934.7 28.9 L929.4 38.8 L940 38.8ZM944.76 28.9 L939.46 38.8 L950.06 38.8ZM954.82 28.9 L949.52 38.8 L960.12 38.8ZM964.88 28.9 L959.58 38.8 L970.18 38.8ZM974.94 28.9 L969.64 38.8 L980.24 38.8ZM985 28.9 L979.7 38.8 L990.3 38.8ZM995.06 28.9 L989.76 38.8 L1000.36 38.8ZM1005.12 29.9 L999.82 39.8 L1010.42 39.8ZM1015.18 33.4 L1009.88 43.3 L1020.48 43.3ZM1025.24 41.4 L1019.94 51.3 L1030.54 51.3ZM1035.3 55.4 L1030 65.3 L1040.6 65.3ZM1045.36 78.4 L1040.06 88.3 L1050.66 88.3ZM1055.42 112 L1050.12 121.9 L1060.72 121.9ZM1065.48 162.8 L1060.18 172.7 L1070.78 172.7ZM1075.54 229.1 L1070.24 239 L1080.84 239ZM1085.6 312.1 L1080.3 322 L1090.9 322Z" stroke="#0000ff" stroke-width="2.3" fill="none" stroke-miterlimit="10"/>
<path d="M733.5 35.5 L743.56 35.5 L753.62 35.5 L763.68 35.5 L773.74 35.5 L783.8 35.5 L793.86 35.5 L803.92 35.5 L813.98 35.5 L824.04 35.5 L834.1 35.5 L844.16 35.5 L854.22 35.5 L864.28 35.5 L874.34 35.5 L884.4 35.5 L894.46 35.5 L904.52 35.5 L914.58 35.5 L924.64 35.5 L934.7 35.5 L944.76 35.5 L954.82 35.5 L964.88 35.5 L974.94 35.5 L985 35.5 L995.06 35.5 L1005.12 36.5 L1015.18 40 L1025.24 47 L1035.3 57 L1045.36 74 L1055.42 98.5 L1065.48 132 L1075.54 176.1 L1085.6 230 L1095.66 286 L1105.72 340" stroke="#ff0000" stroke-width="2.5" stroke-dasharray="6.5 6" fill="none"/>
<path d="M733.5 35.5 L743.56 35.5 L753.62 35.5 L763.68 35.5 L773.74 35.5 L783.8 35.5 L793.86 35.5 L803.92 35.5 L813.98 35.5 L824.04 35.5 L834.1 35.5 L844.16 35.5 L854.22 35.5 L864.28 35.5 L874.34 35.5 L884.4 35.5 L894.46 35.5 L904.52 35.5 L914.58 35.5 L924.64 35.5 L934.7 35.5 L944.76 35.5 L954.82 35.5 L964.88 35.5 L974.94 35.5 L985 35.5 L995.06 35.5 L1005.12 36.5 L1015.18 40 L1025.24 47 L1035.3 57 L1045.36 74 L1055.42 98.5 L1065.48 132 L1075.54 176.1 L1085.6 230 L1095.66 293.8 L1105.72 368" stroke="#0000ff" stroke-width="2.9" fill="none" stroke-linejoin="round"/>
<path d="M730.11 31.5h6.77v8h-6.77ZM740.17 31.5h6.77v8h-6.77ZM750.23 31.5h6.77v8h-6.77ZM760.29 31.5h6.77v8h-6.77ZM770.35 31.5h6.77v8h-6.77ZM780.41 31.5h6.77v8h-6.77ZM790.47 31.5h6.77v8h-6.77ZM800.53 31.5h6.77v8h-6.77ZM810.59 31.5h6.77v8h-6.77ZM820.65 31.5h6.77v8h-6.77ZM830.71 31.5h6.77v8h-6.77ZM840.77 31.5h6.77v8h-6.77ZM850.83 31.5h6.77v8h-6.77ZM860.89 31.5h6.77v8h-6.77ZM870.95 31.5h6.77v8h-6.77ZM881.01 31.5h6.77v8h-6.77ZM891.07 31.5h6.77v8h-6.77ZM901.13 31.5h6.77v8h-6.77ZM911.19 31.5h6.77v8h-6.77ZM921.25 31.5h6.77v8h-6.77ZM931.31 31.5h6.77v8h-6.77ZM941.37 31.5h6.77v8h-6.77ZM951.43 31.5h6.77v8h-6.77ZM961.49 31.5h6.77v8h-6.77ZM971.55 31.5h6.77v8h-6.77ZM981.61 31.5h6.77v8h-6.77ZM991.67 31.5h6.77v8h-6.77ZM1001.73 32.5h6.77v8h-6.77ZM1011.79 36h6.77v8h-6.77ZM1021.85 43h6.77v8h-6.77ZM1031.91 53h6.77v8h-6.77ZM1041.97 70h6.77v8h-6.77ZM1052.03 94.5h6.77v8h-6.77ZM1062.09 128h6.77v8h-6.77ZM1072.15 172.1h6.77v8h-6.77ZM1082.21 226h6.77v8h-6.77ZM1092.27 289.8h6.77v8h-6.77ZM1102.33 364h6.77v8h-6.77Z" stroke="#0000ff" stroke-width="2.3" fill="none" stroke-miterlimit="10"/>
<path d="M733.5 35.5 L743.56 35.5 L753.62 35.5 L763.68 35.5 L773.74 35.5 L783.8 35.5 L793.86 35.5 L803.92 35.5 L813.98 35.5 L824.04 35.5 L834.1 35.5 L844.16 35.5 L854.22 35.5 L864.28 35.5 L874.34 35.5 L884.4 35.5 L894.46 35.5 L904.52 35.5 L914.58 35.5 L924.64 35.5 L934.7 35.5 L944.76 35.5 L954.82 35.5 L964.88 35.5 L974.94 35.5 L985 35.5 L995.06 35.5 L1005.12 36.5 L1015.18 40 L1025.24 46 L1035.3 53.5 L1045.36 63 L1055.42 73.8 L1065.48 88.5 L1075.54 106.8 L1085.6 128.3 L1095.66 154.4 L1105.72 183.2 L1115.78 211 L1125.84 243 L1135.9 272 L1145.96 306" stroke="#ff0000" stroke-width="2.5" stroke-dasharray="6.5 6" fill="none"/>
<path d="M733.5 35.5 L743.56 35.5 L753.62 35.5 L763.68 35.5 L773.74 35.5 L783.8 35.5 L793.86 35.5 L803.92 35.5 L813.98 35.5 L824.04 35.5 L834.1 35.5 L844.16 35.5 L854.22 35.5 L864.28 35.5 L874.34 35.5 L884.4 35.5 L894.46 35.5 L904.52 35.5 L914.58 35.5 L924.64 35.5 L934.7 35.5 L944.76 35.5 L954.82 35.5 L964.88 35.5 L974.94 35.5 L985 35.5 L995.06 35.5 L1005.12 36.5 L1015.18 40 L1025.24 46 L1035.3 53.5 L1045.36 63 L1055.42 73.8 L1065.48 88.5 L1075.54 106.8 L1085.6 128.3 L1095.66 154.4 L1105.72 183.2 L1115.78 214.8 L1125.84 250.8 L1135.9 290.6 L1145.96 334.7" stroke="#0000ff" stroke-width="2.9" fill="none" stroke-linejoin="round"/>
<path d="M728.29 35.5h10.42M733.5 29.8v11.4M738.35 35.5h10.42M743.56 29.8v11.4M748.41 35.5h10.42M753.62 29.8v11.4M758.47 35.5h10.42M763.68 29.8v11.4M768.53 35.5h10.42M773.74 29.8v11.4M778.59 35.5h10.42M783.8 29.8v11.4M788.65 35.5h10.42M793.86 29.8v11.4M798.71 35.5h10.42M803.92 29.8v11.4M808.77 35.5h10.42M813.98 29.8v11.4M818.83 35.5h10.42M824.04 29.8v11.4M828.89 35.5h10.42M834.1 29.8v11.4M838.95 35.5h10.42M844.16 29.8v11.4M849.01 35.5h10.42M854.22 29.8v11.4M859.07 35.5h10.42M864.28 29.8v11.4M869.13 35.5h10.42M874.34 29.8v11.4M879.19 35.5h10.42M884.4 29.8v11.4M889.25 35.5h10.42M894.46 29.8v11.4M899.31 35.5h10.42M904.52 29.8v11.4M909.37 35.5h10.42M914.58 29.8v11.4M919.43 35.5h10.42M924.64 29.8v11.4M929.49 35.5h10.42M934.7 29.8v11.4M939.55 35.5h10.42M944.76 29.8v11.4M949.61 35.5h10.42M954.82 29.8v11.4M959.67 35.5h10.42M964.88 29.8v11.4M969.73 35.5h10.42M974.94 29.8v11.4M979.79 35.5h10.42M985 29.8v11.4M989.85 35.5h10.42M995.06 29.8v11.4M999.91 36.5h10.42M1005.12 30.8v11.4M1009.97 40h10.42M1015.18 34.3v11.4M1020.03 46h10.42M1025.24 40.3v11.4M1030.09 53.5h10.42M1035.3 47.8v11.4M1040.15 63h10.42M1045.36 57.3v11.4M1050.21 73.8h10.42M1055.42 68.1v11.4M1060.27 88.5h10.42M1065.48 82.8v11.4M1070.33 106.8h10.42M1075.54 101.1v11.4M1080.39 128.3h10.42M1085.6 122.6v11.4M1090.45 154.4h10.42M1095.66 148.7v11.4M1100.51 183.2h10.42M1105.72 177.5v11.4M1110.57 214.8h10.42M1115.78 209.1v11.4M1120.63 250.8h10.42M1125.84 245.1v11.4M1130.69 290.6h10.42M1135.9 284.9v11.4M1140.75 334.7h10.42M1145.96 329v11.4" stroke="#0000ff" stroke-width="2.3" fill="none" stroke-miterlimit="10"/>
<path d="M733.5 35.5 L743.56 35.5 L753.62 35.5 L763.68 35.5 L773.74 35.5 L783.8 35.5 L793.86 35.5 L803.92 35.5 L813.98 35.5 L824.04 35.5 L834.1 35.5 L844.16 35.5 L854.22 35.5 L864.28 35.5 L874.34 35.5 L884.4 35.5 L894.46 35.5 L904.52 35.5 L914.58 35.5 L924.64 35.5 L934.7 35.5 L944.76 35.5 L954.82 35.5 L964.88 35.5 L974.94 35.5 L985 35.5 L995.06 35.7 L1005.12 36.2 L1015.18 38.6 L1025.24 42.5 L1035.3 46 L1045.36 50.2 L1055.42 56 L1065.48 63.8 L1075.54 72.7 L1085.6 82.7 L1095.66 94.8 L1105.72 108.5 L1115.78 124 L1125.84 142 L1135.9 161.3 L1145.96 182 L1156.02 204.8 L1166.08 229.2 L1176.14 255 L1186.2 280 L1196.26 309" stroke="#ff0000" stroke-width="2.5" stroke-dasharray="6.5 6" fill="none"/>
<path d="M733.5 35.5 L743.56 35.5 L753.62 35.5 L763.68 35.5 L773.74 35.5 L783.8 35.5 L793.86 35.5 L803.92 35.5 L813.98 35.5 L824.04 35.5 L834.1 35.5 L844.16 35.5 L854.22 35.5 L864.28 35.5 L874.34 35.5 L884.4 35.5 L894.46 35.5 L904.52 35.5 L914.58 35.5 L924.64 35.5 L934.7 35.5 L944.76 35.5 L954.82 35.5 L964.88 35.5 L974.94 35.5 L985 35.5 L995.06 35.7 L1005.12 36.2 L1015.18 38.6 L1025.24 42.5 L1035.3 46 L1045.36 50.2 L1055.42 56 L1065.48 63.8 L1075.54 72.7 L1085.6 82.7 L1095.66 94.8 L1105.72 108.5 L1115.78 124 L1125.84 142 L1135.9 161.3 L1145.96 182 L1156.02 204.8 L1166.08 229.2 L1176.14 255 L1186.2 282.7 L1196.26 311.7" stroke="#0000ff" stroke-width="2.9" fill="none" stroke-linejoin="round"/>
<path d="M733.5 29.9 L735 32.7 L738 32.7 L736.5 35.5 L738 38.3 L735 38.3 L733.5 41.1 L732 38.3 L729 38.3 L730.5 35.5 L729 32.7 L732 32.7ZM743.56 29.9 L745.06 32.7 L748.06 32.7 L746.56 35.5 L748.06 38.3 L745.06 38.3 L743.56 41.1 L742.06 38.3 L739.06 38.3 L740.56 35.5 L739.06 32.7 L742.06 32.7ZM753.62 29.9 L755.12 32.7 L758.12 32.7 L756.62 35.5 L758.12 38.3 L755.12 38.3 L753.62 41.1 L752.12 38.3 L749.12 38.3 L750.62 35.5 L749.12 32.7 L752.12 32.7ZM763.68 29.9 L765.18 32.7 L768.18 32.7 L766.68 35.5 L768.18 38.3 L765.18 38.3 L763.68 41.1 L762.18 38.3 L759.18 38.3 L760.68 35.5 L759.18 32.7 L762.18 32.7ZM773.74 29.9 L775.24 32.7 L778.24 32.7 L776.74 35.5 L778.24 38.3 L775.24 38.3 L773.74 41.1 L772.24 38.3 L769.24 38.3 L770.74 35.5 L769.24 32.7 L772.24 32.7ZM783.8 29.9 L785.3 32.7 L788.3 32.7 L786.8 35.5 L788.3 38.3 L785.3 38.3 L783.8 41.1 L782.3 38.3 L779.3 38.3 L780.8 35.5 L779.3 32.7 L782.3 32.7ZM793.86 29.9 L795.36 32.7 L798.36 32.7 L796.86 35.5 L798.36 38.3 L795.36 38.3 L793.86 41.1 L792.36 38.3 L789.36 38.3 L790.86 35.5 L789.36 32.7 L792.36 32.7ZM803.92 29.9 L805.42 32.7 L808.42 32.7 L806.92 35.5 L808.42 38.3 L805.42 38.3 L803.92 41.1 L802.42 38.3 L799.42 38.3 L800.92 35.5 L799.42 32.7 L802.42 32.7ZM813.98 29.9 L815.48 32.7 L818.48 32.7 L816.98 35.5 L818.48 38.3 L815.48 38.3 L813.98 41.1 L812.48 38.3 L809.48 38.3 L810.98 35.5 L809.48 32.7 L812.48 32.7ZM824.04 29.9 L825.54 32.7 L828.54 32.7 L827.04 35.5 L828.54 38.3 L825.54 38.3 L824.04 41.1 L822.54 38.3 L819.54 38.3 L821.04 35.5 L819.54 32.7 L822.54 32.7ZM834.1 29.9 L835.6 32.7 L838.6 32.7 L837.1 35.5 L838.6 38.3 L835.6 38.3 L834.1 41.1 L832.6 38.3 L829.6 38.3 L831.1 35.5 L829.6 32.7 L832.6 32.7ZM844.16 29.9 L845.66 32.7 L848.66 32.7 L847.16 35.5 L848.66 38.3 L845.66 38.3 L844.16 41.1 L842.66 38.3 L839.66 38.3 L841.16 35.5 L839.66 32.7 L842.66 32.7ZM854.22 29.9 L855.72 32.7 L858.72 32.7 L857.22 35.5 L858.72 38.3 L855.72 38.3 L854.22 41.1 L852.72 38.3 L849.72 38.3 L851.22 35.5 L849.72 32.7 L852.72 32.7ZM864.28 29.9 L865.78 32.7 L868.78 32.7 L867.28 35.5 L868.78 38.3 L865.78 38.3 L864.28 41.1 L862.78 38.3 L859.78 38.3 L861.28 35.5 L859.78 32.7 L862.78 32.7ZM874.34 29.9 L875.84 32.7 L878.84 32.7 L877.34 35.5 L878.84 38.3 L875.84 38.3 L874.34 41.1 L872.84 38.3 L869.84 38.3 L871.34 35.5 L869.84 32.7 L872.84 32.7ZM884.4 29.9 L885.9 32.7 L888.9 32.7 L887.4 35.5 L888.9 38.3 L885.9 38.3 L884.4 41.1 L882.9 38.3 L879.9 38.3 L881.4 35.5 L879.9 32.7 L882.9 32.7ZM894.46 29.9 L895.96 32.7 L898.96 32.7 L897.46 35.5 L898.96 38.3 L895.96 38.3 L894.46 41.1 L892.96 38.3 L889.96 38.3 L891.46 35.5 L889.96 32.7 L892.96 32.7ZM904.52 29.9 L906.02 32.7 L909.02 32.7 L907.52 35.5 L909.02 38.3 L906.02 38.3 L904.52 41.1 L903.02 38.3 L900.02 38.3 L901.52 35.5 L900.02 32.7 L903.02 32.7ZM914.58 29.9 L916.08 32.7 L919.08 32.7 L917.58 35.5 L919.08 38.3 L916.08 38.3 L914.58 41.1 L913.08 38.3 L910.08 38.3 L911.58 35.5 L910.08 32.7 L913.08 32.7ZM924.64 29.9 L926.14 32.7 L929.14 32.7 L927.64 35.5 L929.14 38.3 L926.14 38.3 L924.64 41.1 L923.14 38.3 L920.14 38.3 L921.64 35.5 L920.14 32.7 L923.14 32.7ZM934.7 29.9 L936.2 32.7 L939.2 32.7 L937.7 35.5 L939.2 38.3 L936.2 38.3 L934.7 41.1 L933.2 38.3 L930.2 38.3 L931.7 35.5 L930.2 32.7 L933.2 32.7ZM944.76 29.9 L946.26 32.7 L949.26 32.7 L947.76 35.5 L949.26 38.3 L946.26 38.3 L944.76 41.1 L943.26 38.3 L940.26 38.3 L941.76 35.5 L940.26 32.7 L943.26 32.7ZM954.82 29.9 L956.32 32.7 L959.32 32.7 L957.82 35.5 L959.32 38.3 L956.32 38.3 L954.82 41.1 L953.32 38.3 L950.32 38.3 L951.82 35.5 L950.32 32.7 L953.32 32.7ZM964.88 29.9 L966.38 32.7 L969.38 32.7 L967.88 35.5 L969.38 38.3 L966.38 38.3 L964.88 41.1 L963.38 38.3 L960.38 38.3 L961.88 35.5 L960.38 32.7 L963.38 32.7ZM974.94 29.9 L976.44 32.7 L979.44 32.7 L977.94 35.5 L979.44 38.3 L976.44 38.3 L974.94 41.1 L973.44 38.3 L970.44 38.3 L971.94 35.5 L970.44 32.7 L973.44 32.7ZM985 29.9 L986.5 32.7 L989.5 32.7 L988 35.5 L989.5 38.3 L986.5 38.3 L985 41.1 L983.5 38.3 L980.5 38.3 L982 35.5 L980.5 32.7 L983.5 32.7ZM995.06 30.1 L996.56 32.9 L999.56 32.9 L998.06 35.7 L999.56 38.5 L996.56 38.5 L995.06 41.3 L993.56 38.5 L990.56 38.5 L992.06 35.7 L990.56 32.9 L993.56 32.9ZM1005.12 30.6 L1006.62 33.4 L1009.62 33.4 L1008.12 36.2 L1009.62 39 L1006.62 39 L1005.12 41.8 L1003.62 39 L1000.62 39 L1002.12 36.2 L1000.62 33.4 L1003.62 33.4ZM1015.18 33 L1016.68 35.8 L1019.68 35.8 L1018.18 38.6 L1019.68 41.4 L1016.68 41.4 L1015.18 44.2 L1013.68 41.4 L1010.68 41.4 L1012.18 38.6 L1010.68 35.8 L1013.68 35.8ZM1025.24 36.9 L1026.74 39.7 L1029.74 39.7 L1028.24 42.5 L1029.74 45.3 L1026.74 45.3 L1025.24 48.1 L1023.74 45.3 L1020.74 45.3 L1022.24 42.5 L1020.74 39.7 L1023.74 39.7ZM1035.3 40.4 L1036.8 43.2 L1039.8 43.2 L1038.3 46 L1039.8 48.8 L1036.8 48.8 L1035.3 51.6 L1033.8 48.8 L1030.8 48.8 L1032.3 46 L1030.8 43.2 L1033.8 43.2ZM1045.36 44.6 L1046.86 47.4 L1049.86 47.4 L1048.36 50.2 L1049.86 53 L1046.86 53 L1045.36 55.8 L1043.86 53 L1040.86 53 L1042.36 50.2 L1040.86 47.4 L1043.86 47.4ZM1055.42 50.4 L1056.92 53.2 L1059.92 53.2 L1058.42 56 L1059.92 58.8 L1056.92 58.8 L1055.42 61.6 L1053.92 58.8 L1050.92 58.8 L1052.42 56 L1050.92 53.2 L1053.92 53.2ZM1065.48 58.2 L1066.98 61 L1069.98 61 L1068.48 63.8 L1069.98 66.6 L1066.98 66.6 L1065.48 69.4 L1063.98 66.6 L1060.98 66.6 L1062.48 63.8 L1060.98 61 L1063.98 61ZM1075.54 67.1 L1077.04 69.9 L1080.04 69.9 L1078.54 72.7 L1080.04 75.5 L1077.04 75.5 L1075.54 78.3 L1074.04 75.5 L1071.04 75.5 L1072.54 72.7 L1071.04 69.9 L1074.04 69.9ZM1085.6 77.1 L1087.1 79.9 L1090.1 79.9 L1088.6 82.7 L1090.1 85.5 L1087.1 85.5 L1085.6 88.3 L1084.1 85.5 L1081.1 85.5 L1082.6 82.7 L1081.1 79.9 L1084.1 79.9ZM1095.66 89.2 L1097.16 92 L1100.16 92 L1098.66 94.8 L1100.16 97.6 L1097.16 97.6 L1095.66 100.4 L1094.16 97.6 L1091.16 97.6 L1092.66 94.8 L1091.16 92 L1094.16 92ZM1105.72 102.9 L1107.22 105.7 L1110.22 105.7 L1108.72 108.5 L1110.22 111.3 L1107.22 111.3 L1105.72 114.1 L1104.22 111.3 L1101.22 111.3 L1102.72 108.5 L1101.22 105.7 L1104.22 105.7ZM1115.78 118.4 L1117.28 121.2 L1120.28 121.2 L1118.78 124 L1120.28 126.8 L1117.28 126.8 L1115.78 129.6 L1114.28 126.8 L1111.28 126.8 L1112.78 124 L1111.28 121.2 L1114.28 121.2ZM1125.84 136.4 L1127.34 139.2 L1130.34 139.2 L1128.84 142 L1130.34 144.8 L1127.34 144.8 L1125.84 147.6 L1124.34 144.8 L1121.34 144.8 L1122.84 142 L1121.34 139.2 L1124.34 139.2ZM1135.9 155.7 L1137.4 158.5 L1140.4 158.5 L1138.9 161.3 L1140.4 164.1 L1137.4 164.1 L1135.9 166.9 L1134.4 164.1 L1131.4 164.1 L1132.9 161.3 L1131.4 158.5 L1134.4 158.5ZM1145.96 176.4 L1147.46 179.2 L1150.46 179.2 L1148.96 182 L1150.46 184.8 L1147.46 184.8 L1145.96 187.6 L1144.46 184.8 L1141.46 184.8 L1142.96 182 L1141.46 179.2 L1144.46 179.2ZM1156.02 199.2 L1157.52 202 L1160.52 202 L1159.02 204.8 L1160.52 207.6 L1157.52 207.6 L1156.02 210.4 L1154.52 207.6 L1151.52 207.6 L1153.02 204.8 L1151.52 202 L1154.52 202ZM1166.08 223.6 L1167.58 226.4 L1170.58 226.4 L1169.08 229.2 L1170.58 232 L1167.58 232 L1166.08 234.8 L1164.58 232 L1161.58 232 L1163.08 229.2 L1161.58 226.4 L1164.58 226.4ZM1176.14 249.4 L1177.64 252.2 L1180.64 252.2 L1179.14 255 L1180.64 257.8 L1177.64 257.8 L1176.14 260.6 L1174.64 257.8 L1171.64 257.8 L1173.14 255 L1171.64 252.2 L1174.64 252.2ZM1186.2 277.1 L1187.7 279.9 L1190.7 279.9 L1189.2 282.7 L1190.7 285.5 L1187.7 285.5 L1186.2 288.3 L1184.7 285.5 L1181.7 285.5 L1183.2 282.7 L1181.7 279.9 L1184.7 279.9ZM1196.26 306.1 L1197.76 308.9 L1200.76 308.9 L1199.26 311.7 L1200.76 314.5 L1197.76 314.5 L1196.26 317.3 L1194.76 314.5 L1191.76 314.5 L1193.26 311.7 L1191.76 308.9 L1194.76 308.9Z" stroke="#0000ff" stroke-width="2.3" fill="#0000ff" stroke-miterlimit="10"/>
<rect x="734.5" y="266.5" width="139" height="157" fill="#fff" stroke="#000" stroke-width="1" shape-rendering="crispEdges"/>
<path d="M740 276.15H770.9" stroke="#ff0000" stroke-width="2.2" stroke-dasharray="6.2 2.4" fill="none"/>
<text transform="translate(774.4 280.15) scale(0.8857 1)" font-size="11" text-anchor="start" stroke="#000" stroke-width="0.15" >TB = 6000 (AWGN)</text>
<path d="M740 291.45H770.9" stroke="#0000ff" stroke-width="2.5" fill="none"/>
<path d="M755.65 298.05 L750.35 288.15 L760.95 288.15Z" stroke="#0000ff" stroke-width="2.3" fill="none" stroke-miterlimit="10"/>
<text transform="translate(774.4 295.45) scale(0.8857 1)" font-size="11" text-anchor="start" stroke="#000" stroke-width="0.15" >TB = 6000 (estimated)</text>
<path d="M740 306.75H770.9" stroke="#ff0000" stroke-width="2.2" stroke-dasharray="6.2 2.4" fill="none"/>
<text transform="translate(774.4 310.75) scale(0.8857 1)" font-size="11" text-anchor="start" stroke="#000" stroke-width="0.15" >TB = 4000 (AWGN)</text>
<path d="M740 322.05H770.9" stroke="#0000ff" stroke-width="2.5" fill="none"/>
<path d="M755.65 315.45 L750.35 325.35 L760.95 325.35Z" stroke="#0000ff" stroke-width="2.3" fill="none" stroke-miterlimit="10"/>
<text transform="translate(774.4 326.05) scale(0.8857 1)" font-size="11" text-anchor="start" stroke="#000" stroke-width="0.15" >TB = 4000 (estimated)</text>
<path d="M740 337.35H770.9" stroke="#ff0000" stroke-width="2.2" stroke-dasharray="6.2 2.4" fill="none"/>
<text transform="translate(774.4 341.35) scale(0.8857 1)" font-size="11" text-anchor="start" stroke="#000" stroke-width="0.15" >TB = 2560 (AWGN)</text>
<path d="M740 352.65H770.9" stroke="#0000ff" stroke-width="2.5" fill="none"/>
<path d="M752.26 348.65h6.77v8h-6.77Z" stroke="#0000ff" stroke-width="2.3" fill="none" stroke-miterlimit="10"/>
<text transform="translate(774.4 356.65) scale(0.8857 1)" font-size="11" text-anchor="start" stroke="#000" stroke-width="0.15" >TB = 2560 (estimated)</text>
<path d="M740 367.95H770.9" stroke="#ff0000" stroke-width="2.2" stroke-dasharray="6.2 2.4" fill="none"/>
<text transform="translate(774.4 371.95) scale(0.8857 1)" font-size="11" text-anchor="start" stroke="#000" stroke-width="0.15" >TB = 1024 (AWGN)</text>
<path d="M740 383.25H770.9" stroke="#0000ff" stroke-width="2.5" fill="none"/>
<path d="M750.44 383.25h10.42M755.65 377.55v11.4" stroke="#0000ff" stroke-width="2.3" fill="none" stroke-miterlimit="10"/>
<text transform="translate(774.4 387.25) scale(0.8857 1)" font-size="11" text-anchor="start" stroke="#000" stroke-width="0.15" >TB = 1024 (estimated)</text>
<path d="M740 398.55H770.9" stroke="#ff0000" stroke-width="2.2" stroke-dasharray="6.2 2.4" fill="none"/>
<text transform="translate(774.4 402.55) scale(0.8857 1)" font-size="11" text-anchor="start" stroke="#000" stroke-width="0.15" >TB = 512 (AWGN)</text>
<path d="M740 413.85H770.9" stroke="#0000ff" stroke-width="2.5" fill="none"/>
<path d="M755.65 408.25 L757.15 411.05 L760.15 411.05 L758.65 413.85 L760.15 416.65 L757.15 416.65 L755.65 419.45 L754.15 416.65 L751.15 416.65 L752.65 413.85 L751.15 411.05 L754.15 411.05Z" stroke="#0000ff" stroke-width="2.9" fill="none" stroke-miterlimit="10"/>
<text transform="translate(774.4 417.85) scale(0.8857 1)" font-size="11" text-anchor="start" stroke="#000" stroke-width="0.15" >TB = 512 (estimated)</text>
<text transform="translate(733.7 439) scale(0.8440200000000001 1)" font-size="11" text-anchor="middle" stroke="#000" stroke-width="0.15" >7</text>
<text transform="translate(784 439) scale(0.8440200000000001 1)" font-size="11" text-anchor="middle" stroke="#000" stroke-width="0.15" >7.5</text>
<text transform="translate(834.3 439) scale(0.8440200000000001 1)" font-size="11" text-anchor="middle" stroke="#000" stroke-width="0.15" >8</text>
<text transform="translate(884.6 439) scale(0.8440200000000001 1)" font-size="11" text-anchor="middle" stroke="#000" stroke-width="0.15" >8.5</text>
<text transform="translate(934.9 439) scale(0.8440200000000001 1)" font-size="11" text-anchor="middle" stroke="#000" stroke-width="0.15" >9</text>
<text transform="translate(985.2 439) scale(0.8440200000000001 1)" font-size="11" text-anchor="middle" stroke="#000" stroke-width="0.15" >9.5</text>
<text transform="translate(1035.5 439) scale(0.8440200000000001 1)" font-size="11" text-anchor="middle" stroke="#000" stroke-width="0.15" >10</text>
<text transform="translate(1085.8 439) scale(0.8440200000000001 1)" font-size="11" text-anchor="middle" stroke="#000" stroke-width="0.15" >10.5</text>
<text transform="translate(1136.1 439) scale(0.8440200000000001 1)" font-size="11" text-anchor="middle" stroke="#000" stroke-width="0.15" >11</text>
<text transform="translate(1186.4 439) scale(0.8440200000000001 1)" font-size="11" text-anchor="middle" stroke="#000" stroke-width="0.15" >11.5</text>
<text transform="translate(1236.7 439) scale(0.8440200000000001 1)" font-size="11" text-anchor="middle" stroke="#000" stroke-width="0.15" >12</text>
<text transform="translate(713.08 39) scale(0.8440200000000001 1)" font-size="11" text-anchor="start" stroke="#000" stroke-width="0.15" >10</text>
<text transform="translate(723.1 33) scale(0.85 1)" font-size="7.5" text-anchor="start" stroke="#000" stroke-width="0.15" >0</text>
<text transform="translate(713.08 169) scale(0.8440200000000001 1)" font-size="11" text-anchor="start" stroke="#000" stroke-width="0.15" >10</text>
<text transform="translate(723.1 163) scale(0.85 1)" font-size="7.5" text-anchor="start" stroke="#000" stroke-width="0.15" >-1</text>
<text transform="translate(713.08 299) scale(0.8440200000000001 1)" font-size="11" text-anchor="start" stroke="#000" stroke-width="0.15" >10</text>
<text transform="translate(723.1 293) scale(0.85 1)" font-size="7.5" text-anchor="start" stroke="#000" stroke-width="0.15" >-2</text>
<text transform="translate(713.08 429) scale(0.8440200000000001 1)" font-size="11" text-anchor="start" stroke="#000" stroke-width="0.15" >10</text>
<text transform="translate(723.1 423) scale(0.85 1)" font-size="7.5" text-anchor="start" stroke="#000" stroke-width="0.15" >-3</text>
<text transform="translate(984.5 452) scale(0.85444 1)" font-size="11" text-anchor="middle" stroke="#000" stroke-width="0.15" >SNR</text>
<text transform="translate(707 230.5) rotate(-90) scale(0.9 1)" font-size="11" text-anchor="middle" stroke="#000" stroke-width="0.15">BLER</text>
<text x="913.6" y="510.1" font-family="'Liberation Serif', serif" font-size="26.3" textLength="117.7" lengthAdjust="spacingAndGlyphs">b) MCS 18</text>
</g>
<g>
<path d="M162.5 558.5V948.5M242.5 558.5V948.5M323.5 558.5V948.5M403.5 558.5V948.5M484.5 558.5V948.5" stroke="#000" stroke-width="1" stroke-dasharray="1 4" fill="none" shape-rendering="crispEdges"/>
<path d="M81.5 626.5H564.5M81.5 597.5H564.5M81.5 578.5H564.5M81.5 564.5H564.5M81.5 688.5H564.5M81.5 756.5H564.5M81.5 727.5H564.5M81.5 708.5H564.5M81.5 694.5H564.5M81.5 818.5H564.5M81.5 886.5H564.5M81.5 857.5H564.5M81.5 838.5H564.5M81.5 824.5H564.5" stroke="#000" stroke-width="1" stroke-dasharray="1 3.3" fill="none" shape-rendering="crispEdges"/>
<path d="M81.5 649.5H564.5M81.5 610.5H564.5M81.5 587.5H564.5M81.5 779.5H564.5M81.5 740.5H564.5M81.5 717.5H564.5M81.5 909.5H564.5M81.5 870.5H564.5M81.5 847.5H564.5" stroke="#000" stroke-width="1" stroke-dasharray="1 3.25 1 11.75" fill="none" shape-rendering="crispEdges"/>
<path d="M81.5 570.5H564.5M81.5 700.5H564.5M81.5 830.5H564.5" stroke="#000" stroke-width="1" stroke-dasharray="1 3.25 1 3.25 1 7.5" fill="none" shape-rendering="crispEdges"/>
<path d="M162 948.5v-5M162 558.5v5M242.5 948.5v-5M242.5 558.5v5M323 948.5v-5M323 558.5v5M403.5 948.5v-5M403.5 558.5v5M484 948.5v-5M484 558.5v5M81.5 649.37h2.5M564.5 649.37h-2.5M81.5 626.47h2.5M564.5 626.47h-2.5M81.5 610.23h2.5M564.5 610.23h-2.5M81.5 597.63h2.5M564.5 597.63h-2.5M81.5 587.34h2.5M564.5 587.34h-2.5M81.5 578.64h2.5M564.5 578.64h-2.5M81.5 571.1h2.5M564.5 571.1h-2.5M81.5 564.45h2.5M564.5 564.45h-2.5M81.5 688.5h4.5M564.5 688.5h-4.5M81.5 779.37h2.5M564.5 779.37h-2.5M81.5 756.47h2.5M564.5 756.47h-2.5M81.5 740.23h2.5M564.5 740.23h-2.5M81.5 727.63h2.5M564.5 727.63h-2.5M81.5 717.34h2.5M564.5 717.34h-2.5M81.5 708.64h2.5M564.5 708.64h-2.5M81.5 701.1h2.5M564.5 701.1h-2.5M81.5 694.45h2.5M564.5 694.45h-2.5M81.5 818.5h4.5M564.5 818.5h-4.5M81.5 909.37h2.5M564.5 909.37h-2.5M81.5 886.47h2.5M564.5 886.47h-2.5M81.5 870.23h2.5M564.5 870.23h-2.5M81.5 857.63h2.5M564.5 857.63h-2.5M81.5 847.34h2.5M564.5 847.34h-2.5M81.5 838.64h2.5M564.5 838.64h-2.5M81.5 831.1h2.5M564.5 831.1h-2.5M81.5 824.45h2.5M564.5 824.45h-2.5" stroke="#000" stroke-width="1" fill="none" shape-rendering="crispEdges"/>
<rect x="81.5" y="558.5" width="483" height="390" fill="none" stroke="#000" stroke-width="1" shape-rendering="crispEdges"/>
<path d="M81.5 558.5 L89.55 558.5 L97.6 558.5 L105.65 558.5 L113.7 558.5 L121.75 558.5 L129.8 558.5 L137.85 558.5 L145.9 558.5 L153.95 558.5 L162 558.5 L170.05 558.5 L178.1 558.5 L186.15 558.5 L194.2 558.5 L202.25 558.5 L210.3 558.5 L218.35 558.5 L226.4 558.5 L234.45 558.5 L242.5 558.5 L250.55 558.5 L258.6 558.5 L266.65 558.5 L274.7 558.5 L282.75 558.5 L290.8 558.5 L298.85 558.5 L306.9 558.5 L314.95 558.5 L323 558.5 L331.05 558.5 L339.1 558.5 L347.15 558.5 L355.2 558.5 L363.25 558.5 L371.3 558.5 L379.35 558.5 L387.4 560 L395.45 564 L403.5 576 L411.55 597 L419.6 633 L427.65 691.1 L435.7 775 L443.75 872" stroke="#ff0000" stroke-width="2.5" stroke-dasharray="6.5 6" fill="none"/>
<path d="M81.5 558.5 L89.55 558.5 L97.6 558.5 L105.65 558.5 L113.7 558.5 L121.75 558.5 L129.8 558.5 L137.85 558.5 L145.9 558.5 L153.95 558.5 L162 558.5 L170.05 558.5 L178.1 558.5 L186.15 558.5 L194.2 558.5 L202.25 558.5 L210.3 558.5 L218.35 558.5 L226.4 558.5 L234.45 558.5 L242.5 558.5 L250.55 558.5 L258.6 558.5 L266.65 558.5 L274.7 558.5 L282.75 558.5 L290.8 558.5 L298.85 558.5 L306.9 558.5 L314.95 558.5 L323 558.5 L331.05 558.5 L339.1 558.5 L347.15 558.5 L355.2 558.5 L363.25 558.5 L371.3 558.5 L379.35 558.5 L387.4 560 L395.45 564 L403.5 576 L411.55 597 L419.6 633 L427.65 691.1 L435.7 769.5 L443.75 869.2" stroke="#0000ff" stroke-width="2.9" fill="none" stroke-linejoin="round"/>
<path d="M81.5 565.1 L76.41 555.2 L86.59 555.2ZM89.55 565.1 L84.46 555.2 L94.64 555.2ZM97.6 565.1 L92.51 555.2 L102.69 555.2ZM105.65 565.1 L100.56 555.2 L110.74 555.2ZM113.7 565.1 L108.61 555.2 L118.79 555.2ZM121.75 565.1 L116.66 555.2 L126.84 555.2ZM129.8 565.1 L124.71 555.2 L134.89 555.2ZM137.85 565.1 L132.76 555.2 L142.94 555.2ZM145.9 565.1 L140.81 555.2 L150.99 555.2ZM153.95 565.1 L148.86 555.2 L159.04 555.2ZM162 565.1 L156.91 555.2 L167.09 555.2ZM170.05 565.1 L164.96 555.2 L175.14 555.2ZM178.1 565.1 L173.01 555.2 L183.19 555.2ZM186.15 565.1 L181.06 555.2 L191.24 555.2ZM194.2 565.1 L189.11 555.2 L199.29 555.2ZM202.25 565.1 L197.16 555.2 L207.34 555.2ZM210.3 565.1 L205.21 555.2 L215.39 555.2ZM218.35 565.1 L213.26 555.2 L223.44 555.2ZM226.4 565.1 L221.31 555.2 L231.49 555.2ZM234.45 565.1 L229.36 555.2 L239.54 555.2ZM242.5 565.1 L237.41 555.2 L247.59 555.2ZM250.55 565.1 L245.46 555.2 L255.64 555.2ZM258.6 565.1 L253.51 555.2 L263.69 555.2ZM266.65 565.1 L261.56 555.2 L271.74 555.2ZM274.7 565.1 L269.61 555.2 L279.79 555.2ZM282.75 565.1 L277.66 555.2 L287.84 555.2ZM290.8 565.1 L285.71 555.2 L295.89 555.2ZM298.85 565.1 L293.76 555.2 L303.94 555.2ZM306.9 565.1 L301.81 555.2 L311.99 555.2ZM314.95 565.1 L309.86 555.2 L320.04 555.2ZM323 565.1 L317.91 555.2 L328.09 555.2ZM331.05 565.1 L325.96 555.2 L336.14 555.2ZM339.1 565.1 L334.01 555.2 L344.19 555.2ZM347.15 565.1 L342.06 555.2 L352.24 555.2ZM355.2 565.1 L350.11 555.2 L360.29 555.2ZM363.25 565.1 L358.16 555.2 L368.34 555.2ZM371.3 565.1 L366.21 555.2 L376.39 555.2ZM379.35 565.1 L374.26 555.2 L384.44 555.2ZM387.4 566.6 L382.31 556.7 L392.49 556.7ZM395.45 570.6 L390.36 560.7 L400.54 560.7ZM403.5 582.6 L398.41 572.7 L408.59 572.7ZM411.55 603.6 L406.46 593.7 L416.64 593.7ZM419.6 639.6 L414.51 629.7 L424.69 629.7ZM427.65 697.7 L422.56 687.8 L432.74 687.8ZM435.7 776.1 L430.61 766.2 L440.79 766.2ZM443.75 875.8 L438.66 865.9 L448.84 865.9Z" stroke="#0000ff" stroke-width="2.3" fill="none" stroke-miterlimit="10"/>
<path d="M81.5 558.5 L89.55 558.5 L97.6 558.5 L105.65 558.5 L113.7 558.5 L121.75 558.5 L129.8 558.5 L137.85 558.5 L145.9 558.5 L153.95 558.5 L162 558.5 L170.05 558.5 L178.1 558.5 L186.15 558.5 L194.2 558.5 L202.25 558.5 L210.3 558.5 L218.35 558.5 L226.4 558.5 L234.45 558.5 L242.5 558.5 L250.55 558.5 L258.6 558.5 L266.65 558.5 L274.7 558.5 L282.75 558.5 L290.8 558.5 L298.85 558.5 L306.9 558.5 L314.95 558.5 L323 558.5 L331.05 558.5 L339.1 558.5 L347.15 558.5 L355.2 558.5 L363.25 558.5 L371.3 558.5 L379.35 558.5 L387.4 560 L395.45 564 L403.5 575 L411.55 594 L419.6 622 L427.65 661 L435.7 722 L443.75 795 L451.8 872" stroke="#ff0000" stroke-width="2.5" stroke-dasharray="6.5 6" fill="none"/>
<path d="M81.5 558.5 L89.55 558.5 L97.6 558.5 L105.65 558.5 L113.7 558.5 L121.75 558.5 L129.8 558.5 L137.85 558.5 L145.9 558.5 L153.95 558.5 L162 558.5 L170.05 558.5 L178.1 558.5 L186.15 558.5 L194.2 558.5 L202.25 558.5 L210.3 558.5 L218.35 558.5 L226.4 558.5 L234.45 558.5 L242.5 558.5 L250.55 558.5 L258.6 558.5 L266.65 558.5 L274.7 558.5 L282.75 558.5 L290.8 558.5 L298.85 558.5 L306.9 558.5 L314.95 558.5 L323 558.5 L331.05 558.5 L339.1 558.5 L347.15 558.5 L355.2 558.5 L363.25 558.5 L371.3 558.5 L379.35 558.5 L387.4 560 L395.45 564 L403.5 575 L411.55 594 L419.6 622 L427.65 661 L435.7 714.8 L443.75 781.3 L451.8 861.6" stroke="#0000ff" stroke-width="2.9" fill="none" stroke-linejoin="round"/>
<path d="M81.5 551.9 L76.41 561.8 L86.59 561.8ZM89.55 551.9 L84.46 561.8 L94.64 561.8ZM97.6 551.9 L92.51 561.8 L102.69 561.8ZM105.65 551.9 L100.56 561.8 L110.74 561.8ZM113.7 551.9 L108.61 561.8 L118.79 561.8ZM121.75 551.9 L116.66 561.8 L126.84 561.8ZM129.8 551.9 L124.71 561.8 L134.89 561.8ZM137.85 551.9 L132.76 561.8 L142.94 561.8ZM145.9 551.9 L140.81 561.8 L150.99 561.8ZM153.95 551.9 L148.86 561.8 L159.04 561.8ZM162 551.9 L156.91 561.8 L167.09 561.8ZM170.05 551.9 L164.96 561.8 L175.14 561.8ZM178.1 551.9 L173.01 561.8 L183.19 561.8ZM186.15 551.9 L181.06 561.8 L191.24 561.8ZM194.2 551.9 L189.11 561.8 L199.29 561.8ZM202.25 551.9 L197.16 561.8 L207.34 561.8ZM210.3 551.9 L205.21 561.8 L215.39 561.8ZM218.35 551.9 L213.26 561.8 L223.44 561.8ZM226.4 551.9 L221.31 561.8 L231.49 561.8ZM234.45 551.9 L229.36 561.8 L239.54 561.8ZM242.5 551.9 L237.41 561.8 L247.59 561.8ZM250.55 551.9 L245.46 561.8 L255.64 561.8ZM258.6 551.9 L253.51 561.8 L263.69 561.8ZM266.65 551.9 L261.56 561.8 L271.74 561.8ZM274.7 551.9 L269.61 561.8 L279.79 561.8ZM282.75 551.9 L277.66 561.8 L287.84 561.8ZM290.8 551.9 L285.71 561.8 L295.89 561.8ZM298.85 551.9 L293.76 561.8 L303.94 561.8ZM306.9 551.9 L301.81 561.8 L311.99 561.8ZM314.95 551.9 L309.86 561.8 L320.04 561.8ZM323 551.9 L317.91 561.8 L328.09 561.8ZM331.05 551.9 L325.96 561.8 L336.14 561.8ZM339.1 551.9 L334.01 561.8 L344.19 561.8ZM347.15 551.9 L342.06 561.8 L352.24 561.8ZM355.2 551.9 L350.11 561.8 L360.29 561.8ZM363.25 551.9 L358.16 561.8 L368.34 561.8ZM371.3 551.9 L366.21 561.8 L376.39 561.8ZM379.35 551.9 L374.26 561.8 L384.44 561.8ZM387.4 553.4 L382.31 563.3 L392.49 563.3ZM395.45 557.4 L390.36 567.3 L400.54 567.3ZM403.5 568.4 L398.41 578.3 L408.59 578.3ZM411.55 587.4 L406.46 597.3 L416.64 597.3ZM419.6 615.4 L414.51 625.3 L424.69 625.3ZM427.65 654.4 L422.56 664.3 L432.74 664.3ZM435.7 708.2 L430.61 718.1 L440.79 718.1ZM443.75 774.7 L438.66 784.6 L448.84 784.6ZM451.8 855 L446.71 864.9 L456.89 864.9Z" stroke="#0000ff" stroke-width="2.3" fill="none" stroke-miterlimit="10"/>
<path d="M81.5 558.5 L89.55 558.5 L97.6 558.5 L105.65 558.5 L113.7 558.5 L121.75 558.5 L129.8 558.5 L137.85 558.5 L145.9 558.5 L153.95 558.5 L162 558.5 L170.05 558.5 L178.1 558.5 L186.15 558.5 L194.2 558.5 L202.25 558.5 L210.3 558.5 L218.35 558.5 L226.4 558.5 L234.45 558.5 L242.5 558.5 L250.55 558.5 L258.6 558.5 L266.65 558.5 L274.7 558.5 L282.75 558.5 L290.8 558.5 L298.85 558.5 L306.9 558.5 L314.95 558.5 L323 558.5 L331.05 558.5 L339.1 558.5 L347.15 558.5 L355.2 558.5 L363.25 558.5 L371.3 558.5 L379.35 558.5 L387.4 560 L395.45 563 L403.5 571 L411.55 584 L419.6 601.7 L427.65 629.2 L435.7 662.2 L443.75 704.4 L451.8 756 L459.85 818 L467.9 900" stroke="#ff0000" stroke-width="2.5" stroke-dasharray="6.5 6" fill="none"/>
<path d="M81.5 558.5 L89.55 558.5 L97.6 558.5 L105.65 558.5 L113.7 558.5 L121.75 558.5 L129.8 558.5 L137.85 558.5 L145.9 558.5 L153.95 558.5 L162 558.5 L170.05 558.5 L178.1 558.5 L186.15 558.5 L194.2 558.5 L202.25 558.5 L210.3 558.5 L218.35 558.5 L226.4 558.5 L234.45 558.5 L242.5 558.5 L250.55 558.5 L258.6 558.5 L266.65 558.5 L274.7 558.5 L282.75 558.5 L290.8 558.5 L298.85 558.5 L306.9 558.5 L314.95 558.5 L323 558.5 L331.05 558.5 L339.1 558.5 L347.15 558.5 L355.2 558.5 L363.25 558.5 L371.3 558.5 L379.35 558.5 L387.4 560 L395.45 563 L403.5 571 L411.55 584 L419.6 601.7 L427.65 629.2 L435.7 662.2 L443.75 704.4 L451.8 756 L459.85 813.9 L467.9 881" stroke="#0000ff" stroke-width="2.9" fill="none" stroke-linejoin="round"/>
<path d="M78.25 554.5h6.5v8h-6.5ZM86.3 554.5h6.5v8h-6.5ZM94.35 554.5h6.5v8h-6.5ZM102.4 554.5h6.5v8h-6.5ZM110.45 554.5h6.5v8h-6.5ZM118.5 554.5h6.5v8h-6.5ZM126.55 554.5h6.5v8h-6.5ZM134.6 554.5h6.5v8h-6.5ZM142.65 554.5h6.5v8h-6.5ZM150.7 554.5h6.5v8h-6.5ZM158.75 554.5h6.5v8h-6.5ZM166.8 554.5h6.5v8h-6.5ZM174.85 554.5h6.5v8h-6.5ZM182.9 554.5h6.5v8h-6.5ZM190.95 554.5h6.5v8h-6.5ZM199 554.5h6.5v8h-6.5ZM207.05 554.5h6.5v8h-6.5ZM215.1 554.5h6.5v8h-6.5ZM223.15 554.5h6.5v8h-6.5ZM231.2 554.5h6.5v8h-6.5ZM239.25 554.5h6.5v8h-6.5ZM247.3 554.5h6.5v8h-6.5ZM255.35 554.5h6.5v8h-6.5ZM263.4 554.5h6.5v8h-6.5ZM271.45 554.5h6.5v8h-6.5ZM279.5 554.5h6.5v8h-6.5ZM287.55 554.5h6.5v8h-6.5ZM295.6 554.5h6.5v8h-6.5ZM303.65 554.5h6.5v8h-6.5ZM311.7 554.5h6.5v8h-6.5ZM319.75 554.5h6.5v8h-6.5ZM327.8 554.5h6.5v8h-6.5ZM335.85 554.5h6.5v8h-6.5ZM343.9 554.5h6.5v8h-6.5ZM351.95 554.5h6.5v8h-6.5ZM360 554.5h6.5v8h-6.5ZM368.05 554.5h6.5v8h-6.5ZM376.1 554.5h6.5v8h-6.5ZM384.15 556h6.5v8h-6.5ZM392.2 559h6.5v8h-6.5ZM400.25 567h6.5v8h-6.5ZM408.3 580h6.5v8h-6.5ZM416.35 597.7h6.5v8h-6.5ZM424.4 625.2h6.5v8h-6.5ZM432.45 658.2h6.5v8h-6.5ZM440.5 700.4h6.5v8h-6.5ZM448.55 752h6.5v8h-6.5ZM456.6 809.9h6.5v8h-6.5ZM464.65 877h6.5v8h-6.5Z" stroke="#0000ff" stroke-width="2.3" fill="none" stroke-miterlimit="10"/>
<path d="M81.5 558.5 L89.55 558.5 L97.6 558.5 L105.65 558.5 L113.7 558.5 L121.75 558.5 L129.8 558.5 L137.85 558.5 L145.9 558.5 L153.95 558.5 L162 558.5 L170.05 558.5 L178.1 558.5 L186.15 558.5 L194.2 558.5 L202.25 558.5 L210.3 558.5 L218.35 558.5 L226.4 558.5 L234.45 558.5 L242.5 558.5 L250.55 558.5 L258.6 558.5 L266.65 558.5 L274.7 558.5 L282.75 558.5 L290.8 558.5 L298.85 558.5 L306.9 558.5 L314.95 558.5 L323 558.5 L331.05 558.5 L339.1 558.5 L347.15 558.5 L355.2 558.5 L363.25 558.5 L371.3 558.5 L379.35 558.5 L387.4 559.5 L395.45 562 L403.5 567 L411.55 573.6 L419.6 581.7 L427.65 592.5 L435.7 605.7 L443.75 621.7 L451.8 640.7 L459.85 662.8 L467.9 688 L475.95 716 L484 743 L492.05 774 L500.1 803 L508.15 835" stroke="#ff0000" stroke-width="2.5" stroke-dasharray="6.5 6" fill="none"/>
<path d="M81.5 558.5 L89.55 558.5 L97.6 558.5 L105.65 558.5 L113.7 558.5 L121.75 558.5 L129.8 558.5 L137.85 558.5 L145.9 558.5 L153.95 558.5 L162 558.5 L170.05 558.5 L178.1 558.5 L186.15 558.5 L194.2 558.5 L202.25 558.5 L210.3 558.5 L218.35 558.5 L226.4 558.5 L234.45 558.5 L242.5 558.5 L250.55 558.5 L258.6 558.5 L266.65 558.5 L274.7 558.5 L282.75 558.5 L290.8 558.5 L298.85 558.5 L306.9 558.5 L314.95 558.5 L323 558.5 L331.05 558.5 L339.1 558.5 L347.15 558.5 L355.2 558.5 L363.25 558.5 L371.3 558.5 L379.35 558.5 L387.4 559.5 L395.45 562 L403.5 567 L411.55 573.6 L419.6 581.7 L427.65 592.5 L435.7 605.7 L443.75 621.7 L451.8 640.7 L459.85 662.8 L467.9 688 L475.95 716 L484 746 L492.05 779.7 L500.1 814.7 L508.15 854.2" stroke="#0000ff" stroke-width="2.9" fill="none" stroke-linejoin="round"/>
<path d="M76.5 558.5h10M81.5 552.8v11.4M84.55 558.5h10M89.55 552.8v11.4M92.6 558.5h10M97.6 552.8v11.4M100.65 558.5h10M105.65 552.8v11.4M108.7 558.5h10M113.7 552.8v11.4M116.75 558.5h10M121.75 552.8v11.4M124.8 558.5h10M129.8 552.8v11.4M132.85 558.5h10M137.85 552.8v11.4M140.9 558.5h10M145.9 552.8v11.4M148.95 558.5h10M153.95 552.8v11.4M157 558.5h10M162 552.8v11.4M165.05 558.5h10M170.05 552.8v11.4M173.1 558.5h10M178.1 552.8v11.4M181.15 558.5h10M186.15 552.8v11.4M189.2 558.5h10M194.2 552.8v11.4M197.25 558.5h10M202.25 552.8v11.4M205.3 558.5h10M210.3 552.8v11.4M213.35 558.5h10M218.35 552.8v11.4M221.4 558.5h10M226.4 552.8v11.4M229.45 558.5h10M234.45 552.8v11.4M237.5 558.5h10M242.5 552.8v11.4M245.55 558.5h10M250.55 552.8v11.4M253.6 558.5h10M258.6 552.8v11.4M261.65 558.5h10M266.65 552.8v11.4M269.7 558.5h10M274.7 552.8v11.4M277.75 558.5h10M282.75 552.8v11.4M285.8 558.5h10M290.8 552.8v11.4M293.85 558.5h10M298.85 552.8v11.4M301.9 558.5h10M306.9 552.8v11.4M309.95 558.5h10M314.95 552.8v11.4M318 558.5h10M323 552.8v11.4M326.05 558.5h10M331.05 552.8v11.4M334.1 558.5h10M339.1 552.8v11.4M342.15 558.5h10M347.15 552.8v11.4M350.2 558.5h10M355.2 552.8v11.4M358.25 558.5h10M363.25 552.8v11.4M366.3 558.5h10M371.3 552.8v11.4M374.35 558.5h10M379.35 552.8v11.4M382.4 559.5h10M387.4 553.8v11.4M390.45 562h10M395.45 556.3v11.4M398.5 567h10M403.5 561.3v11.4M406.55 573.6h10M411.55 567.9v11.4M414.6 581.7h10M419.6 576v11.4M422.65 592.5h10M427.65 586.8v11.4M430.7 605.7h10M435.7 600v11.4M438.75 621.7h10M443.75 616v11.4M446.8 640.7h10M451.8 635v11.4M454.85 662.8h10M459.85 657.1v11.4M462.9 688h10M467.9 682.3v11.4M470.95 716h10M475.95 710.3v11.4M479 746h10M484 740.3v11.4M487.05 779.7h10M492.05 774v11.4M495.1 814.7h10M500.1 809v11.4M503.15 854.2h10M508.15 848.5v11.4" stroke="#0000ff" stroke-width="2.3" fill="none" stroke-miterlimit="10"/>
<path d="M81.5 558.5 L89.55 558.5 L97.6 558.5 L105.65 558.5 L113.7 558.5 L121.75 558.5 L129.8 558.5 L137.85 558.5 L145.9 558.5 L153.95 558.5 L162 558.5 L170.05 558.5 L178.1 558.5 L186.15 558.5 L194.2 558.5 L202.25 558.5 L210.3 558.5 L218.35 558.5 L226.4 558.5 L234.45 558.5 L242.5 558.5 L250.55 558.5 L258.6 558.5 L266.65 558.5 L274.7 558.5 L282.75 558.5 L290.8 558.5 L298.85 558.5 L306.9 558.5 L314.95 558.5 L323 558.5 L331.05 558.5 L339.1 558.5 L347.15 558.5 L355.2 558.5 L363.25 558.5 L371.3 558.5 L379.35 558.8 L387.4 559.5 L395.45 561 L403.5 563.9 L411.55 567.3 L419.6 570.8 L427.65 575.4 L435.7 581.7 L443.75 590.2 L451.8 599.4 L459.85 610.9 L467.9 621.7 L475.95 634.9 L484 649.6 L492.05 666 L500.1 683.4 L508.15 705 L516.2 727 L524.25 750 L532.3 773.5 L540.35 797.5 L548.4 821.5 L556.45 848" stroke="#ff0000" stroke-width="2.5" stroke-dasharray="6.5 6" fill="none"/>
<path d="M81.5 558.5 L89.55 558.5 L97.6 558.5 L105.65 558.5 L113.7 558.5 L121.75 558.5 L129.8 558.5 L137.85 558.5 L145.9 558.5 L153.95 558.5 L162 558.5 L170.05 558.5 L178.1 558.5 L186.15 558.5 L194.2 558.5 L202.25 558.5 L210.3 558.5 L218.35 558.5 L226.4 558.5 L234.45 558.5 L242.5 558.5 L250.55 558.5 L258.6 558.5 L266.65 558.5 L274.7 558.5 L282.75 558.5 L290.8 558.5 L298.85 558.5 L306.9 558.5 L314.95 558.5 L323 558.5 L331.05 558.5 L339.1 558.5 L347.15 558.5 L355.2 558.5 L363.25 558.5 L371.3 558.5 L379.35 558.8 L387.4 559.5 L395.45 561 L403.5 563.9 L411.55 567.3 L419.6 570.8 L427.65 575.4 L435.7 581.7 L443.75 590.2 L451.8 599.4 L459.85 610.9 L467.9 621.7 L475.95 634.9 L484 649.6 L492.05 666 L500.1 683.4 L508.15 702.6 L516.2 722.3 L524.25 743.6 L532.3 765.2 L540.35 789 L548.4 811.9 L556.45 837.1" stroke="#0000ff" stroke-width="2.9" fill="none" stroke-linejoin="round"/>
<path d="M81.5 552.9 L82.94 555.7 L85.82 555.7 L84.38 558.5 L85.82 561.3 L82.94 561.3 L81.5 564.1 L80.06 561.3 L77.18 561.3 L78.62 558.5 L77.18 555.7 L80.06 555.7ZM89.55 552.9 L90.99 555.7 L93.87 555.7 L92.43 558.5 L93.87 561.3 L90.99 561.3 L89.55 564.1 L88.11 561.3 L85.23 561.3 L86.67 558.5 L85.23 555.7 L88.11 555.7ZM97.6 552.9 L99.04 555.7 L101.92 555.7 L100.48 558.5 L101.92 561.3 L99.04 561.3 L97.6 564.1 L96.16 561.3 L93.28 561.3 L94.72 558.5 L93.28 555.7 L96.16 555.7ZM105.65 552.9 L107.09 555.7 L109.97 555.7 L108.53 558.5 L109.97 561.3 L107.09 561.3 L105.65 564.1 L104.21 561.3 L101.33 561.3 L102.77 558.5 L101.33 555.7 L104.21 555.7ZM113.7 552.9 L115.14 555.7 L118.02 555.7 L116.58 558.5 L118.02 561.3 L115.14 561.3 L113.7 564.1 L112.26 561.3 L109.38 561.3 L110.82 558.5 L109.38 555.7 L112.26 555.7ZM121.75 552.9 L123.19 555.7 L126.07 555.7 L124.63 558.5 L126.07 561.3 L123.19 561.3 L121.75 564.1 L120.31 561.3 L117.43 561.3 L118.87 558.5 L117.43 555.7 L120.31 555.7ZM129.8 552.9 L131.24 555.7 L134.12 555.7 L132.68 558.5 L134.12 561.3 L131.24 561.3 L129.8 564.1 L128.36 561.3 L125.48 561.3 L126.92 558.5 L125.48 555.7 L128.36 555.7ZM137.85 552.9 L139.29 555.7 L142.17 555.7 L140.73 558.5 L142.17 561.3 L139.29 561.3 L137.85 564.1 L136.41 561.3 L133.53 561.3 L134.97 558.5 L133.53 555.7 L136.41 555.7ZM145.9 552.9 L147.34 555.7 L150.22 555.7 L148.78 558.5 L150.22 561.3 L147.34 561.3 L145.9 564.1 L144.46 561.3 L141.58 561.3 L143.02 558.5 L141.58 555.7 L144.46 555.7ZM153.95 552.9 L155.39 555.7 L158.27 555.7 L156.83 558.5 L158.27 561.3 L155.39 561.3 L153.95 564.1 L152.51 561.3 L149.63 561.3 L151.07 558.5 L149.63 555.7 L152.51 555.7ZM162 552.9 L163.44 555.7 L166.32 555.7 L164.88 558.5 L166.32 561.3 L163.44 561.3 L162 564.1 L160.56 561.3 L157.68 561.3 L159.12 558.5 L157.68 555.7 L160.56 555.7ZM170.05 552.9 L171.49 555.7 L174.37 555.7 L172.93 558.5 L174.37 561.3 L171.49 561.3 L170.05 564.1 L168.61 561.3 L165.73 561.3 L167.17 558.5 L165.73 555.7 L168.61 555.7ZM178.1 552.9 L179.54 555.7 L182.42 555.7 L180.98 558.5 L182.42 561.3 L179.54 561.3 L178.1 564.1 L176.66 561.3 L173.78 561.3 L175.22 558.5 L173.78 555.7 L176.66 555.7ZM186.15 552.9 L187.59 555.7 L190.47 555.7 L189.03 558.5 L190.47 561.3 L187.59 561.3 L186.15 564.1 L184.71 561.3 L181.83 561.3 L183.27 558.5 L181.83 555.7 L184.71 555.7ZM194.2 552.9 L195.64 555.7 L198.52 555.7 L197.08 558.5 L198.52 561.3 L195.64 561.3 L194.2 564.1 L192.76 561.3 L189.88 561.3 L191.32 558.5 L189.88 555.7 L192.76 555.7ZM202.25 552.9 L203.69 555.7 L206.57 555.7 L205.13 558.5 L206.57 561.3 L203.69 561.3 L202.25 564.1 L200.81 561.3 L197.93 561.3 L199.37 558.5 L197.93 555.7 L200.81 555.7ZM210.3 552.9 L211.74 555.7 L214.62 555.7 L213.18 558.5 L214.62 561.3 L211.74 561.3 L210.3 564.1 L208.86 561.3 L205.98 561.3 L207.42 558.5 L205.98 555.7 L208.86 555.7ZM218.35 552.9 L219.79 555.7 L222.67 555.7 L221.23 558.5 L222.67 561.3 L219.79 561.3 L218.35 564.1 L216.91 561.3 L214.03 561.3 L215.47 558.5 L214.03 555.7 L216.91 555.7ZM226.4 552.9 L227.84 555.7 L230.72 555.7 L229.28 558.5 L230.72 561.3 L227.84 561.3 L226.4 564.1 L224.96 561.3 L222.08 561.3 L223.52 558.5 L222.08 555.7 L224.96 555.7ZM234.45 552.9 L235.89 555.7 L238.77 555.7 L237.33 558.5 L238.77 561.3 L235.89 561.3 L234.45 564.1 L233.01 561.3 L230.13 561.3 L231.57 558.5 L230.13 555.7 L233.01 555.7ZM242.5 552.9 L243.94 555.7 L246.82 555.7 L245.38 558.5 L246.82 561.3 L243.94 561.3 L242.5 564.1 L241.06 561.3 L238.18 561.3 L239.62 558.5 L238.18 555.7 L241.06 555.7ZM250.55 552.9 L251.99 555.7 L254.87 555.7 L253.43 558.5 L254.87 561.3 L251.99 561.3 L250.55 564.1 L249.11 561.3 L246.23 561.3 L247.67 558.5 L246.23 555.7 L249.11 555.7ZM258.6 552.9 L260.04 555.7 L262.92 555.7 L261.48 558.5 L262.92 561.3 L260.04 561.3 L258.6 564.1 L257.16 561.3 L254.28 561.3 L255.72 558.5 L254.28 555.7 L257.16 555.7ZM266.65 552.9 L268.09 555.7 L270.97 555.7 L269.53 558.5 L270.97 561.3 L268.09 561.3 L266.65 564.1 L265.21 561.3 L262.33 561.3 L263.77 558.5 L262.33 555.7 L265.21 555.7ZM274.7 552.9 L276.14 555.7 L279.02 555.7 L277.58 558.5 L279.02 561.3 L276.14 561.3 L274.7 564.1 L273.26 561.3 L270.38 561.3 L271.82 558.5 L270.38 555.7 L273.26 555.7ZM282.75 552.9 L284.19 555.7 L287.07 555.7 L285.63 558.5 L287.07 561.3 L284.19 561.3 L282.75 564.1 L281.31 561.3 L278.43 561.3 L279.87 558.5 L278.43 555.7 L281.31 555.7ZM290.8 552.9 L292.24 555.7 L295.12 555.7 L293.68 558.5 L295.12 561.3 L292.24 561.3 L290.8 564.1 L289.36 561.3 L286.48 561.3 L287.92 558.5 L286.48 555.7 L289.36 555.7ZM298.85 552.9 L300.29 555.7 L303.17 555.7 L301.73 558.5 L303.17 561.3 L300.29 561.3 L298.85 564.1 L297.41 561.3 L294.53 561.3 L295.97 558.5 L294.53 555.7 L297.41 555.7ZM306.9 552.9 L308.34 555.7 L311.22 555.7 L309.78 558.5 L311.22 561.3 L308.34 561.3 L306.9 564.1 L305.46 561.3 L302.58 561.3 L304.02 558.5 L302.58 555.7 L305.46 555.7ZM314.95 552.9 L316.39 555.7 L319.27 555.7 L317.83 558.5 L319.27 561.3 L316.39 561.3 L314.95 564.1 L313.51 561.3 L310.63 561.3 L312.07 558.5 L310.63 555.7 L313.51 555.7ZM323 552.9 L324.44 555.7 L327.32 555.7 L325.88 558.5 L327.32 561.3 L324.44 561.3 L323 564.1 L321.56 561.3 L318.68 561.3 L320.12 558.5 L318.68 555.7 L321.56 555.7ZM331.05 552.9 L332.49 555.7 L335.37 555.7 L333.93 558.5 L335.37 561.3 L332.49 561.3 L331.05 564.1 L329.61 561.3 L326.73 561.3 L328.17 558.5 L326.73 555.7 L329.61 555.7ZM339.1 552.9 L340.54 555.7 L343.42 555.7 L341.98 558.5 L343.42 561.3 L340.54 561.3 L339.1 564.1 L337.66 561.3 L334.78 561.3 L336.22 558.5 L334.78 555.7 L337.66 555.7ZM347.15 552.9 L348.59 555.7 L351.47 555.7 L350.03 558.5 L351.47 561.3 L348.59 561.3 L347.15 564.1 L345.71 561.3 L342.83 561.3 L344.27 558.5 L342.83 555.7 L345.71 555.7ZM355.2 552.9 L356.64 555.7 L359.52 555.7 L358.08 558.5 L359.52 561.3 L356.64 561.3 L355.2 564.1 L353.76 561.3 L350.88 561.3 L352.32 558.5 L350.88 555.7 L353.76 555.7ZM363.25 552.9 L364.69 555.7 L367.57 555.7 L366.13 558.5 L367.57 561.3 L364.69 561.3 L363.25 564.1 L361.81 561.3 L358.93 561.3 L360.37 558.5 L358.93 555.7 L361.81 555.7ZM371.3 552.9 L372.74 555.7 L375.62 555.7 L374.18 558.5 L375.62 561.3 L372.74 561.3 L371.3 564.1 L369.86 561.3 L366.98 561.3 L368.42 558.5 L366.98 555.7 L369.86 555.7ZM379.35 553.2 L380.79 556 L383.67 556 L382.23 558.8 L383.67 561.6 L380.79 561.6 L379.35 564.4 L377.91 561.6 L375.03 561.6 L376.47 558.8 L375.03 556 L377.91 556ZM387.4 553.9 L388.84 556.7 L391.72 556.7 L390.28 559.5 L391.72 562.3 L388.84 562.3 L387.4 565.1 L385.96 562.3 L383.08 562.3 L384.52 559.5 L383.08 556.7 L385.96 556.7ZM395.45 555.4 L396.89 558.2 L399.77 558.2 L398.33 561 L399.77 563.8 L396.89 563.8 L395.45 566.6 L394.01 563.8 L391.13 563.8 L392.57 561 L391.13 558.2 L394.01 558.2ZM403.5 558.3 L404.94 561.1 L407.82 561.1 L406.38 563.9 L407.82 566.7 L404.94 566.7 L403.5 569.5 L402.06 566.7 L399.18 566.7 L400.62 563.9 L399.18 561.1 L402.06 561.1ZM411.55 561.7 L412.99 564.5 L415.87 564.5 L414.43 567.3 L415.87 570.1 L412.99 570.1 L411.55 572.9 L410.11 570.1 L407.23 570.1 L408.67 567.3 L407.23 564.5 L410.11 564.5ZM419.6 565.2 L421.04 568 L423.92 568 L422.48 570.8 L423.92 573.6 L421.04 573.6 L419.6 576.4 L418.16 573.6 L415.28 573.6 L416.72 570.8 L415.28 568 L418.16 568ZM427.65 569.8 L429.09 572.6 L431.97 572.6 L430.53 575.4 L431.97 578.2 L429.09 578.2 L427.65 581 L426.21 578.2 L423.33 578.2 L424.77 575.4 L423.33 572.6 L426.21 572.6ZM435.7 576.1 L437.14 578.9 L440.02 578.9 L438.58 581.7 L440.02 584.5 L437.14 584.5 L435.7 587.3 L434.26 584.5 L431.38 584.5 L432.82 581.7 L431.38 578.9 L434.26 578.9ZM443.75 584.6 L445.19 587.4 L448.07 587.4 L446.63 590.2 L448.07 593 L445.19 593 L443.75 595.8 L442.31 593 L439.43 593 L440.87 590.2 L439.43 587.4 L442.31 587.4ZM451.8 593.8 L453.24 596.6 L456.12 596.6 L454.68 599.4 L456.12 602.2 L453.24 602.2 L451.8 605 L450.36 602.2 L447.48 602.2 L448.92 599.4 L447.48 596.6 L450.36 596.6ZM459.85 605.3 L461.29 608.1 L464.17 608.1 L462.73 610.9 L464.17 613.7 L461.29 613.7 L459.85 616.5 L458.41 613.7 L455.53 613.7 L456.97 610.9 L455.53 608.1 L458.41 608.1ZM467.9 616.1 L469.34 618.9 L472.22 618.9 L470.78 621.7 L472.22 624.5 L469.34 624.5 L467.9 627.3 L466.46 624.5 L463.58 624.5 L465.02 621.7 L463.58 618.9 L466.46 618.9ZM475.95 629.3 L477.39 632.1 L480.27 632.1 L478.83 634.9 L480.27 637.7 L477.39 637.7 L475.95 640.5 L474.51 637.7 L471.63 637.7 L473.07 634.9 L471.63 632.1 L474.51 632.1ZM484 644 L485.44 646.8 L488.32 646.8 L486.88 649.6 L488.32 652.4 L485.44 652.4 L484 655.2 L482.56 652.4 L479.68 652.4 L481.12 649.6 L479.68 646.8 L482.56 646.8ZM492.05 660.4 L493.49 663.2 L496.37 663.2 L494.93 666 L496.37 668.8 L493.49 668.8 L492.05 671.6 L490.61 668.8 L487.73 668.8 L489.17 666 L487.73 663.2 L490.61 663.2ZM500.1 677.8 L501.54 680.6 L504.42 680.6 L502.98 683.4 L504.42 686.2 L501.54 686.2 L500.1 689 L498.66 686.2 L495.78 686.2 L497.22 683.4 L495.78 680.6 L498.66 680.6ZM508.15 697 L509.59 699.8 L512.47 699.8 L511.03 702.6 L512.47 705.4 L509.59 705.4 L508.15 708.2 L506.71 705.4 L503.83 705.4 L505.27 702.6 L503.83 699.8 L506.71 699.8ZM516.2 716.7 L517.64 719.5 L520.52 719.5 L519.08 722.3 L520.52 725.1 L517.64 725.1 L516.2 727.9 L514.76 725.1 L511.88 725.1 L513.32 722.3 L511.88 719.5 L514.76 719.5ZM524.25 738 L525.69 740.8 L528.57 740.8 L527.13 743.6 L528.57 746.4 L525.69 746.4 L524.25 749.2 L522.81 746.4 L519.93 746.4 L521.37 743.6 L519.93 740.8 L522.81 740.8ZM532.3 759.6 L533.74 762.4 L536.62 762.4 L535.18 765.2 L536.62 768 L533.74 768 L532.3 770.8 L530.86 768 L527.98 768 L529.42 765.2 L527.98 762.4 L530.86 762.4ZM540.35 783.4 L541.79 786.2 L544.67 786.2 L543.23 789 L544.67 791.8 L541.79 791.8 L540.35 794.6 L538.91 791.8 L536.03 791.8 L537.47 789 L536.03 786.2 L538.91 786.2ZM548.4 806.3 L549.84 809.1 L552.72 809.1 L551.28 811.9 L552.72 814.7 L549.84 814.7 L548.4 817.5 L546.96 814.7 L544.08 814.7 L545.52 811.9 L544.08 809.1 L546.96 809.1ZM556.45 831.5 L557.89 834.3 L560.77 834.3 L559.33 837.1 L560.77 839.9 L557.89 839.9 L556.45 842.7 L555.01 839.9 L552.13 839.9 L553.57 837.1 L552.13 834.3 L555.01 834.3Z" stroke="#0000ff" stroke-width="2.3" fill="#0000ff" stroke-miterlimit="10"/>
<rect x="82.5" y="789.5" width="133" height="157" fill="#fff" stroke="#000" stroke-width="1" shape-rendering="crispEdges"/>
<path d="M88 799.15H116.8" stroke="#ff0000" stroke-width="2.2" stroke-dasharray="6.2 2.4" fill="none"/>
<text transform="translate(119.9 803.15) scale(0.85 1)" font-size="11" text-anchor="start" stroke="#000" stroke-width="0.15" >TB = 6000 (AWGN)</text>
<path d="M88 814.45H116.8" stroke="#0000ff" stroke-width="2.5" fill="none"/>
<path d="M102.6 821.05 L97.51 811.15 L107.69 811.15Z" stroke="#0000ff" stroke-width="2.3" fill="none" stroke-miterlimit="10"/>
<text transform="translate(119.9 818.45) scale(0.85 1)" font-size="11" text-anchor="start" stroke="#000" stroke-width="0.15" >TB = 6000 (estimated)</text>
<path d="M88 829.75H116.8" stroke="#ff0000" stroke-width="2.2" stroke-dasharray="6.2 2.4" fill="none"/>
<text transform="translate(119.9 833.75) scale(0.85 1)" font-size="11" text-anchor="start" stroke="#000" stroke-width="0.15" >TB = 4000 (AWGN)</text>
<path d="M88 845.05H116.8" stroke="#0000ff" stroke-width="2.5" fill="none"/>
<path d="M102.6 838.45 L97.51 848.35 L107.69 848.35Z" stroke="#0000ff" stroke-width="2.3" fill="none" stroke-miterlimit="10"/>
<text transform="translate(119.9 849.05) scale(0.85 1)" font-size="11" text-anchor="start" stroke="#000" stroke-width="0.15" >TB = 4000 (estimated)</text>
<path d="M88 860.35H116.8" stroke="#ff0000" stroke-width="2.2" stroke-dasharray="6.2 2.4" fill="none"/>
<text transform="translate(119.9 864.35) scale(0.85 1)" font-size="11" text-anchor="start" stroke="#000" stroke-width="0.15" >TB = 2560 (AWGN)</text>
<path d="M88 875.65H116.8" stroke="#0000ff" stroke-width="2.5" fill="none"/>
<path d="M99.35 871.65h6.5v8h-6.5Z" stroke="#0000ff" stroke-width="2.3" fill="none" stroke-miterlimit="10"/>
<text transform="translate(119.9 879.65) scale(0.85 1)" font-size="11" text-anchor="start" stroke="#000" stroke-width="0.15" >TB = 2560 (estimated)</text>
<path d="M88 890.95H116.8" stroke="#ff0000" stroke-width="2.2" stroke-dasharray="6.2 2.4" fill="none"/>
<text transform="translate(119.9 894.95) scale(0.85 1)" font-size="11" text-anchor="start" stroke="#000" stroke-width="0.15" >TB = 1024 (AWGN)</text>
<path d="M88 906.25H116.8" stroke="#0000ff" stroke-width="2.5" fill="none"/>
<path d="M97.6 906.25h10M102.6 900.55v11.4" stroke="#0000ff" stroke-width="2.3" fill="none" stroke-miterlimit="10"/>
<text transform="translate(119.9 910.25) scale(0.85 1)" font-size="11" text-anchor="start" stroke="#000" stroke-width="0.15" >TB = 1024 (estimated)</text>
<path d="M88 921.55H116.8" stroke="#ff0000" stroke-width="2.2" stroke-dasharray="6.2 2.4" fill="none"/>
<text transform="translate(119.9 925.55) scale(0.85 1)" font-size="11" text-anchor="start" stroke="#000" stroke-width="0.15" >TB = 512 (AWGN)</text>
<path d="M88 936.85H116.8" stroke="#0000ff" stroke-width="2.5" fill="none"/>
<path d="M102.6 931.25 L104.04 934.05 L106.92 934.05 L105.48 936.85 L106.92 939.65 L104.04 939.65 L102.6 942.45 L101.16 939.65 L98.28 939.65 L99.72 936.85 L98.28 934.05 L101.16 934.05Z" stroke="#0000ff" stroke-width="2.9" fill="none" stroke-miterlimit="10"/>
<text transform="translate(119.9 940.85) scale(0.85 1)" font-size="11" text-anchor="start" stroke="#000" stroke-width="0.15" >TB = 512 (estimated)</text>
<text transform="translate(81.7 961) scale(0.81 1)" font-size="11" text-anchor="middle" stroke="#000" stroke-width="0.15" >7</text>
<text transform="translate(162.2 961) scale(0.81 1)" font-size="11" text-anchor="middle" stroke="#000" stroke-width="0.15" >8</text>
<text transform="translate(242.7 961) scale(0.81 1)" font-size="11" text-anchor="middle" stroke="#000" stroke-width="0.15" >9</text>
<text transform="translate(323.2 961) scale(0.81 1)" font-size="11" text-anchor="middle" stroke="#000" stroke-width="0.15" >10</text>
<text transform="translate(403.7 961) scale(0.81 1)" font-size="11" text-anchor="middle" stroke="#000" stroke-width="0.15" >11</text>
<text transform="translate(484.2 961) scale(0.81 1)" font-size="11" text-anchor="middle" stroke="#000" stroke-width="0.15" >12</text>
<text transform="translate(564.7 961) scale(0.81 1)" font-size="11" text-anchor="middle" stroke="#000" stroke-width="0.15" >13</text>
<text transform="translate(61.9 562) scale(0.81 1)" font-size="11" text-anchor="start" stroke="#000" stroke-width="0.15" >10</text>
<text transform="translate(71.1 556) scale(0.85 1)" font-size="7.5" text-anchor="start" stroke="#000" stroke-width="0.15" >0</text>
<text transform="translate(61.9 692) scale(0.81 1)" font-size="11" text-anchor="start" stroke="#000" stroke-width="0.15" >10</text>
<text transform="translate(71.1 686) scale(0.85 1)" font-size="7.5" text-anchor="start" stroke="#000" stroke-width="0.15" >-1</text>
<text transform="translate(61.9 822) scale(0.81 1)" font-size="11" text-anchor="start" stroke="#000" stroke-width="0.15" >10</text>
<text transform="translate(71.1 816) scale(0.85 1)" font-size="7.5" text-anchor="start" stroke="#000" stroke-width="0.15" >-2</text>
<text transform="translate(61.9 952) scale(0.81 1)" font-size="11" text-anchor="start" stroke="#000" stroke-width="0.15" >10</text>
<text transform="translate(71.1 946) scale(0.85 1)" font-size="7.5" text-anchor="start" stroke="#000" stroke-width="0.15" >-3</text>
<text transform="translate(322.5 975) scale(0.82 1)" font-size="11" text-anchor="middle" stroke="#000" stroke-width="0.15" >SNR</text>
<text transform="translate(55 753.5) rotate(-90) scale(0.9 1)" font-size="11" text-anchor="middle" stroke="#000" stroke-width="0.15">BLER</text>
<text x="233.9" y="1038.9" font-family="'Liberation Serif', serif" font-size="26.3" textLength="115.6" lengthAdjust="spacingAndGlyphs">c) MCS 19</text>
</g>
<g>
<path d="M789.5 558.5V948.5M845.5 558.5V948.5M901.5 558.5V948.5M957.5 558.5V948.5M1012.5 558.5V948.5M1068.5 558.5V948.5M1124.5 558.5V948.5M1180.5 558.5V948.5" stroke="#000" stroke-width="1" stroke-dasharray="1 4" fill="none" shape-rendering="crispEdges"/>
<path d="M733.5 626.5H1236.5M733.5 597.5H1236.5M733.5 578.5H1236.5M733.5 564.5H1236.5M733.5 688.5H1236.5M733.5 756.5H1236.5M733.5 727.5H1236.5M733.5 708.5H1236.5M733.5 694.5H1236.5M733.5 818.5H1236.5M733.5 886.5H1236.5M733.5 857.5H1236.5M733.5 838.5H1236.5M733.5 824.5H1236.5" stroke="#000" stroke-width="1" stroke-dasharray="1 3.3" fill="none" shape-rendering="crispEdges"/>
<path d="M733.5 649.5H1236.5M733.5 610.5H1236.5M733.5 587.5H1236.5M733.5 779.5H1236.5M733.5 740.5H1236.5M733.5 717.5H1236.5M733.5 909.5H1236.5M733.5 870.5H1236.5M733.5 847.5H1236.5" stroke="#000" stroke-width="1" stroke-dasharray="1 3.25 1 3.25 1 7.5" fill="none" shape-rendering="crispEdges"/>
<path d="M733.5 570.5H1236.5M733.5 700.5H1236.5M733.5 830.5H1236.5" stroke="#000" stroke-width="1" stroke-dasharray="1 3.3 1 3.3 1 3.3 1 7.6" fill="none" shape-rendering="crispEdges"/>
<path d="M789.39 948.5v-5M789.39 558.5v5M845.28 948.5v-5M845.28 558.5v5M901.17 948.5v-5M901.17 558.5v5M957.06 948.5v-5M957.06 558.5v5M1012.94 948.5v-5M1012.94 558.5v5M1068.83 948.5v-5M1068.83 558.5v5M1124.72 948.5v-5M1124.72 558.5v5M1180.61 948.5v-5M1180.61 558.5v5M733.5 649.37h2.5M1236.5 649.37h-2.5M733.5 626.47h2.5M1236.5 626.47h-2.5M733.5 610.23h2.5M1236.5 610.23h-2.5M733.5 597.63h2.5M1236.5 597.63h-2.5M733.5 587.34h2.5M1236.5 587.34h-2.5M733.5 578.64h2.5M1236.5 578.64h-2.5M733.5 571.1h2.5M1236.5 571.1h-2.5M733.5 564.45h2.5M1236.5 564.45h-2.5M733.5 688.5h4.5M1236.5 688.5h-4.5M733.5 779.37h2.5M1236.5 779.37h-2.5M733.5 756.47h2.5M1236.5 756.47h-2.5M733.5 740.23h2.5M1236.5 740.23h-2.5M733.5 727.63h2.5M1236.5 727.63h-2.5M733.5 717.34h2.5M1236.5 717.34h-2.5M733.5 708.64h2.5M1236.5 708.64h-2.5M733.5 701.1h2.5M1236.5 701.1h-2.5M733.5 694.45h2.5M1236.5 694.45h-2.5M733.5 818.5h4.5M1236.5 818.5h-4.5M733.5 909.37h2.5M1236.5 909.37h-2.5M733.5 886.47h2.5M1236.5 886.47h-2.5M733.5 870.23h2.5M1236.5 870.23h-2.5M733.5 857.63h2.5M1236.5 857.63h-2.5M733.5 847.34h2.5M1236.5 847.34h-2.5M733.5 838.64h2.5M1236.5 838.64h-2.5M733.5 831.1h2.5M1236.5 831.1h-2.5M733.5 824.45h2.5M1236.5 824.45h-2.5" stroke="#000" stroke-width="1" fill="none" shape-rendering="crispEdges"/>
<rect x="733.5" y="558.5" width="503" height="390" fill="none" stroke="#000" stroke-width="1" shape-rendering="crispEdges"/>
<path d="M733.5 558.5 L744.68 558.5 L755.86 558.5 L767.03 558.5 L778.21 558.5 L789.39 558.5 L800.57 558.5 L811.74 558.5 L822.92 558.5 L834.1 558.5 L845.28 558.5 L856.46 558.5 L867.63 558.5 L878.81 558.5 L889.99 558.5 L901.17 558.5 L912.34 558.5 L923.52 558.5 L934.7 558.5 L945.88 558.5 L957.06 558.5 L968.23 558.5 L979.41 559.5 L990.59 563 L1001.77 573 L1012.94 590 L1024.12 625 L1035.3 685.8 L1046.48 767 L1057.66 874.4" stroke="#ff0000" stroke-width="2.5" stroke-dasharray="6.5 6" fill="none"/>
<path d="M733.5 558.5 L744.68 558.5 L755.86 558.5 L767.03 558.5 L778.21 558.5 L789.39 558.5 L800.57 558.5 L811.74 558.5 L822.92 558.5 L834.1 558.5 L845.28 558.5 L856.46 558.5 L867.63 558.5 L878.81 558.5 L889.99 558.5 L901.17 558.5 L912.34 558.5 L923.52 558.5 L934.7 558.5 L945.88 558.5 L957.06 558.5 L968.23 558.5 L979.41 559.5 L990.59 563 L1001.77 573 L1012.94 590 L1024.12 625 L1035.3 685.8 L1046.48 767 L1057.66 874.4" stroke="#0000ff" stroke-width="2.9" fill="none" stroke-linejoin="round"/>
<path d="M733.5 565.1 L728.2 555.2 L738.8 555.2ZM744.68 565.1 L739.38 555.2 L749.98 555.2ZM755.86 565.1 L750.55 555.2 L761.16 555.2ZM767.03 565.1 L761.73 555.2 L772.33 555.2ZM778.21 565.1 L772.91 555.2 L783.51 555.2ZM789.39 565.1 L784.09 555.2 L794.69 555.2ZM800.57 565.1 L795.27 555.2 L805.87 555.2ZM811.74 565.1 L806.44 555.2 L817.05 555.2ZM822.92 565.1 L817.62 555.2 L828.22 555.2ZM834.1 565.1 L828.8 555.2 L839.4 555.2ZM845.28 565.1 L839.98 555.2 L850.58 555.2ZM856.46 565.1 L851.15 555.2 L861.76 555.2ZM867.63 565.1 L862.33 555.2 L872.93 555.2ZM878.81 565.1 L873.51 555.2 L884.11 555.2ZM889.99 565.1 L884.69 555.2 L895.29 555.2ZM901.17 565.1 L895.87 555.2 L906.47 555.2ZM912.34 565.1 L907.04 555.2 L917.65 555.2ZM923.52 565.1 L918.22 555.2 L928.82 555.2ZM934.7 565.1 L929.4 555.2 L940 555.2ZM945.88 565.1 L940.58 555.2 L951.18 555.2ZM957.06 565.1 L951.75 555.2 L962.36 555.2ZM968.23 565.1 L962.93 555.2 L973.53 555.2ZM979.41 566.1 L974.11 556.2 L984.71 556.2ZM990.59 569.6 L985.29 559.7 L995.89 559.7ZM1001.77 579.6 L996.47 569.7 L1007.07 569.7ZM1012.94 596.6 L1007.64 586.7 L1018.25 586.7ZM1024.12 631.6 L1018.82 621.7 L1029.42 621.7ZM1035.3 692.4 L1030 682.5 L1040.6 682.5ZM1046.48 773.6 L1041.18 763.7 L1051.78 763.7ZM1057.66 881 L1052.35 871.1 L1062.96 871.1Z" stroke="#0000ff" stroke-width="2.3" fill="none" stroke-miterlimit="10"/>
<path d="M733.5 558.5 L744.68 558.5 L755.86 558.5 L767.03 558.5 L778.21 558.5 L789.39 558.5 L800.57 558.5 L811.74 558.5 L822.92 558.5 L834.1 558.5 L845.28 558.5 L856.46 558.5 L867.63 558.5 L878.81 558.5 L889.99 558.5 L901.17 558.5 L912.34 558.5 L923.52 558.5 L934.7 558.5 L945.88 558.5 L957.06 558.5 L968.23 558.5 L979.41 559.5 L990.59 563 L1001.77 572 L1012.94 588 L1024.12 616 L1035.3 655 L1046.48 705.6 L1057.66 775.6 L1068.83 861.5" stroke="#ff0000" stroke-width="2.5" stroke-dasharray="6.5 6" fill="none"/>
<path d="M733.5 558.5 L744.68 558.5 L755.86 558.5 L767.03 558.5 L778.21 558.5 L789.39 558.5 L800.57 558.5 L811.74 558.5 L822.92 558.5 L834.1 558.5 L845.28 558.5 L856.46 558.5 L867.63 558.5 L878.81 558.5 L889.99 558.5 L901.17 558.5 L912.34 558.5 L923.52 558.5 L934.7 558.5 L945.88 558.5 L957.06 558.5 L968.23 558.5 L979.41 559.5 L990.59 563 L1001.77 572 L1012.94 588 L1024.12 616 L1035.3 655 L1046.48 705.6 L1057.66 775.6 L1068.83 861.5" stroke="#0000ff" stroke-width="2.9" fill="none" stroke-linejoin="round"/>
<path d="M733.5 551.9 L728.2 561.8 L738.8 561.8ZM744.68 551.9 L739.38 561.8 L749.98 561.8ZM755.86 551.9 L750.55 561.8 L761.16 561.8ZM767.03 551.9 L761.73 561.8 L772.33 561.8ZM778.21 551.9 L772.91 561.8 L783.51 561.8ZM789.39 551.9 L784.09 561.8 L794.69 561.8ZM800.57 551.9 L795.27 561.8 L805.87 561.8ZM811.74 551.9 L806.44 561.8 L817.05 561.8ZM822.92 551.9 L817.62 561.8 L828.22 561.8ZM834.1 551.9 L828.8 561.8 L839.4 561.8ZM845.28 551.9 L839.98 561.8 L850.58 561.8ZM856.46 551.9 L851.15 561.8 L861.76 561.8ZM867.63 551.9 L862.33 561.8 L872.93 561.8ZM878.81 551.9 L873.51 561.8 L884.11 561.8ZM889.99 551.9 L884.69 561.8 L895.29 561.8ZM901.17 551.9 L895.87 561.8 L906.47 561.8ZM912.34 551.9 L907.04 561.8 L917.65 561.8ZM923.52 551.9 L918.22 561.8 L928.82 561.8ZM934.7 551.9 L929.4 561.8 L940 561.8ZM945.88 551.9 L940.58 561.8 L951.18 561.8ZM957.06 551.9 L951.75 561.8 L962.36 561.8ZM968.23 551.9 L962.93 561.8 L973.53 561.8ZM979.41 552.9 L974.11 562.8 L984.71 562.8ZM990.59 556.4 L985.29 566.3 L995.89 566.3ZM1001.77 565.4 L996.47 575.3 L1007.07 575.3ZM1012.94 581.4 L1007.64 591.3 L1018.25 591.3ZM1024.12 609.4 L1018.82 619.3 L1029.42 619.3ZM1035.3 648.4 L1030 658.3 L1040.6 658.3ZM1046.48 699 L1041.18 708.9 L1051.78 708.9ZM1057.66 769 L1052.35 778.9 L1062.96 778.9ZM1068.83 854.9 L1063.53 864.8 L1074.13 864.8Z" stroke="#0000ff" stroke-width="2.3" fill="none" stroke-miterlimit="10"/>
<path d="M733.5 558.5 L744.68 558.5 L755.86 558.5 L767.03 558.5 L778.21 558.5 L789.39 558.5 L800.57 558.5 L811.74 558.5 L822.92 558.5 L834.1 558.5 L845.28 558.5 L856.46 558.5 L867.63 558.5 L878.81 558.5 L889.99 558.5 L901.17 558.5 L912.34 558.5 L923.52 558.5 L934.7 558.5 L945.88 558.5 L957.06 558.5 L968.23 558.5 L979.41 559.5 L990.59 563 L1001.77 570 L1012.94 581 L1024.12 599 L1035.3 624 L1046.48 658 L1057.66 701.3 L1068.83 755.5 L1080.01 822 L1091.19 921" stroke="#ff0000" stroke-width="2.5" stroke-dasharray="6.5 6" fill="none"/>
<path d="M733.5 558.5 L744.68 558.5 L755.86 558.5 L767.03 558.5 L778.21 558.5 L789.39 558.5 L800.57 558.5 L811.74 558.5 L822.92 558.5 L834.1 558.5 L845.28 558.5 L856.46 558.5 L867.63 558.5 L878.81 558.5 L889.99 558.5 L901.17 558.5 L912.34 558.5 L923.52 558.5 L934.7 558.5 L945.88 558.5 L957.06 558.5 L968.23 558.5 L979.41 559.5 L990.59 563 L1001.77 570 L1012.94 581 L1024.12 599 L1035.3 624 L1046.48 658 L1057.66 701.3 L1068.83 755.5 L1080.01 817.1 L1091.19 893.4" stroke="#0000ff" stroke-width="2.9" fill="none" stroke-linejoin="round"/>
<path d="M730.11 554.5h6.77v8h-6.77ZM741.29 554.5h6.77v8h-6.77ZM752.47 554.5h6.77v8h-6.77ZM763.65 554.5h6.77v8h-6.77ZM774.82 554.5h6.77v8h-6.77ZM786 554.5h6.77v8h-6.77ZM797.18 554.5h6.77v8h-6.77ZM808.36 554.5h6.77v8h-6.77ZM819.54 554.5h6.77v8h-6.77ZM830.71 554.5h6.77v8h-6.77ZM841.89 554.5h6.77v8h-6.77ZM853.07 554.5h6.77v8h-6.77ZM864.25 554.5h6.77v8h-6.77ZM875.42 554.5h6.77v8h-6.77ZM886.6 554.5h6.77v8h-6.77ZM897.78 554.5h6.77v8h-6.77ZM908.96 554.5h6.77v8h-6.77ZM920.14 554.5h6.77v8h-6.77ZM931.31 554.5h6.77v8h-6.77ZM942.49 554.5h6.77v8h-6.77ZM953.67 554.5h6.77v8h-6.77ZM964.85 554.5h6.77v8h-6.77ZM976.02 555.5h6.77v8h-6.77ZM987.2 559h6.77v8h-6.77ZM998.38 566h6.77v8h-6.77ZM1009.56 577h6.77v8h-6.77ZM1020.74 595h6.77v8h-6.77ZM1031.91 620h6.77v8h-6.77ZM1043.09 654h6.77v8h-6.77ZM1054.27 697.3h6.77v8h-6.77ZM1065.45 751.5h6.77v8h-6.77ZM1076.62 813.1h6.77v8h-6.77ZM1087.8 889.4h6.77v8h-6.77Z" stroke="#0000ff" stroke-width="2.3" fill="none" stroke-miterlimit="10"/>
<path d="M733.5 558.5 L744.68 558.5 L755.86 558.5 L767.03 558.5 L778.21 558.5 L789.39 558.5 L800.57 558.5 L811.74 558.5 L822.92 558.5 L834.1 558.5 L845.28 558.5 L856.46 558.5 L867.63 558.5 L878.81 558.5 L889.99 558.5 L901.17 558.5 L912.34 558.5 L923.52 558.5 L934.7 558.5 L945.88 558.5 L957.06 558.5 L968.23 558.5 L979.41 559.5 L990.59 563 L1001.77 569.5 L1012.94 578 L1024.12 588.5 L1035.3 601.1 L1046.48 616 L1057.66 633.8 L1068.83 655.4 L1080.01 680.4 L1091.19 710.4 L1102.37 740 L1113.54 777 L1124.72 816" stroke="#ff0000" stroke-width="2.5" stroke-dasharray="6.5 6" fill="none"/>
<path d="M733.5 558.5 L744.68 558.5 L755.86 558.5 L767.03 558.5 L778.21 558.5 L789.39 558.5 L800.57 558.5 L811.74 558.5 L822.92 558.5 L834.1 558.5 L845.28 558.5 L856.46 558.5 L867.63 558.5 L878.81 558.5 L889.99 558.5 L901.17 558.5 L912.34 558.5 L923.52 558.5 L934.7 558.5 L945.88 558.5 L957.06 558.5 L968.23 558.5 L979.41 559.5 L990.59 563 L1001.77 569.5 L1012.94 578 L1024.12 588.5 L1035.3 601.1 L1046.48 616 L1057.66 633.8 L1068.83 655.4 L1080.01 680.4 L1091.19 710.4 L1102.37 743.1 L1113.54 780.8 L1124.72 821.9" stroke="#0000ff" stroke-width="2.9" fill="none" stroke-linejoin="round"/>
<path d="M728.29 558.5h10.42M733.5 552.8v11.4M739.47 558.5h10.42M744.68 552.8v11.4M750.65 558.5h10.42M755.86 552.8v11.4M761.82 558.5h10.42M767.03 552.8v11.4M773 558.5h10.42M778.21 552.8v11.4M784.18 558.5h10.42M789.39 552.8v11.4M795.36 558.5h10.42M800.57 552.8v11.4M806.53 558.5h10.42M811.74 552.8v11.4M817.71 558.5h10.42M822.92 552.8v11.4M828.89 558.5h10.42M834.1 552.8v11.4M840.07 558.5h10.42M845.28 552.8v11.4M851.25 558.5h10.42M856.46 552.8v11.4M862.42 558.5h10.42M867.63 552.8v11.4M873.6 558.5h10.42M878.81 552.8v11.4M884.78 558.5h10.42M889.99 552.8v11.4M895.96 558.5h10.42M901.17 552.8v11.4M907.13 558.5h10.42M912.34 552.8v11.4M918.31 558.5h10.42M923.52 552.8v11.4M929.49 558.5h10.42M934.7 552.8v11.4M940.67 558.5h10.42M945.88 552.8v11.4M951.85 558.5h10.42M957.06 552.8v11.4M963.02 558.5h10.42M968.23 552.8v11.4M974.2 559.5h10.42M979.41 553.8v11.4M985.38 563h10.42M990.59 557.3v11.4M996.56 569.5h10.42M1001.77 563.8v11.4M1007.73 578h10.42M1012.94 572.3v11.4M1018.91 588.5h10.42M1024.12 582.8v11.4M1030.09 601.1h10.42M1035.3 595.4v11.4M1041.27 616h10.42M1046.48 610.3v11.4M1052.45 633.8h10.42M1057.66 628.1v11.4M1063.62 655.4h10.42M1068.83 649.7v11.4M1074.8 680.4h10.42M1080.01 674.7v11.4M1085.98 710.4h10.42M1091.19 704.7v11.4M1097.16 743.1h10.42M1102.37 737.4v11.4M1108.33 780.8h10.42M1113.54 775.1v11.4M1119.51 821.9h10.42M1124.72 816.2v11.4" stroke="#0000ff" stroke-width="2.3" fill="none" stroke-miterlimit="10"/>
<path d="M733.5 558.5 L744.68 558.5 L755.86 558.5 L767.03 558.5 L778.21 558.5 L789.39 558.5 L800.57 558.5 L811.74 558.5 L822.92 558.5 L834.1 558.5 L845.28 558.5 L856.46 558.5 L867.63 558.5 L878.81 558.5 L889.99 558.5 L901.17 558.5 L912.34 558.5 L923.52 558.5 L934.7 558.5 L945.88 558.5 L957.06 558.5 L968.23 558.6 L979.41 559.3 L990.59 561.5 L1001.77 564 L1012.94 566.8 L1024.12 570.8 L1035.3 575.9 L1046.48 581.7 L1057.66 589.1 L1068.83 597.7 L1080.01 607.4 L1091.19 618.9 L1102.37 632.8 L1113.54 648.6 L1124.72 666.7 L1135.9 686.3 L1147.08 704 L1158.26 727 L1169.43 751 L1180.61 778 L1191.79 805 L1202.97 833" stroke="#ff0000" stroke-width="2.5" stroke-dasharray="6.5 6" fill="none"/>
<path d="M733.5 558.5 L744.68 558.5 L755.86 558.5 L767.03 558.5 L778.21 558.5 L789.39 558.5 L800.57 558.5 L811.74 558.5 L822.92 558.5 L834.1 558.5 L845.28 558.5 L856.46 558.5 L867.63 558.5 L878.81 558.5 L889.99 558.5 L901.17 558.5 L912.34 558.5 L923.52 558.5 L934.7 558.5 L945.88 558.5 L957.06 558.5 L968.23 558.6 L979.41 559.3 L990.59 561.5 L1001.77 564 L1012.94 566.8 L1024.12 570.8 L1035.3 575.9 L1046.48 581.7 L1057.66 589.1 L1068.83 597.7 L1080.01 607.4 L1091.19 618.9 L1102.37 632.8 L1113.54 648.6 L1124.72 666.7 L1135.9 686.3 L1147.08 707.1 L1158.26 731.7 L1169.43 757.9 L1180.61 786.5 L1191.79 817.3 L1202.97 849.4" stroke="#0000ff" stroke-width="2.9" fill="none" stroke-linejoin="round"/>
<path d="M733.5 552.9 L735 555.7 L738 555.7 L736.5 558.5 L738 561.3 L735 561.3 L733.5 564.1 L732 561.3 L729 561.3 L730.5 558.5 L729 555.7 L732 555.7ZM744.68 552.9 L746.18 555.7 L749.18 555.7 L747.68 558.5 L749.18 561.3 L746.18 561.3 L744.68 564.1 L743.18 561.3 L740.18 561.3 L741.68 558.5 L740.18 555.7 L743.18 555.7ZM755.86 552.9 L757.35 555.7 L760.35 555.7 L758.85 558.5 L760.35 561.3 L757.35 561.3 L755.86 564.1 L754.36 561.3 L751.36 561.3 L752.86 558.5 L751.36 555.7 L754.36 555.7ZM767.03 552.9 L768.53 555.7 L771.53 555.7 L770.03 558.5 L771.53 561.3 L768.53 561.3 L767.03 564.1 L765.53 561.3 L762.54 561.3 L764.03 558.5 L762.54 555.7 L765.53 555.7ZM778.21 552.9 L779.71 555.7 L782.71 555.7 L781.21 558.5 L782.71 561.3 L779.71 561.3 L778.21 564.1 L776.71 561.3 L773.71 561.3 L775.21 558.5 L773.71 555.7 L776.71 555.7ZM789.39 552.9 L790.89 555.7 L793.89 555.7 L792.39 558.5 L793.89 561.3 L790.89 561.3 L789.39 564.1 L787.89 561.3 L784.89 561.3 L786.39 558.5 L784.89 555.7 L787.89 555.7ZM800.57 552.9 L802.07 555.7 L805.06 555.7 L803.57 558.5 L805.06 561.3 L802.07 561.3 L800.57 564.1 L799.07 561.3 L796.07 561.3 L797.57 558.5 L796.07 555.7 L799.07 555.7ZM811.74 552.9 L813.24 555.7 L816.24 555.7 L814.74 558.5 L816.24 561.3 L813.24 561.3 L811.74 564.1 L810.25 561.3 L807.25 561.3 L808.75 558.5 L807.25 555.7 L810.25 555.7ZM822.92 552.9 L824.42 555.7 L827.42 555.7 L825.92 558.5 L827.42 561.3 L824.42 561.3 L822.92 564.1 L821.42 561.3 L818.42 561.3 L819.92 558.5 L818.42 555.7 L821.42 555.7ZM834.1 552.9 L835.6 555.7 L838.6 555.7 L837.1 558.5 L838.6 561.3 L835.6 561.3 L834.1 564.1 L832.6 561.3 L829.6 561.3 L831.1 558.5 L829.6 555.7 L832.6 555.7ZM845.28 552.9 L846.78 555.7 L849.78 555.7 L848.28 558.5 L849.78 561.3 L846.78 561.3 L845.28 564.1 L843.78 561.3 L840.78 561.3 L842.28 558.5 L840.78 555.7 L843.78 555.7ZM856.46 552.9 L857.95 555.7 L860.95 555.7 L859.45 558.5 L860.95 561.3 L857.95 561.3 L856.46 564.1 L854.96 561.3 L851.96 561.3 L853.46 558.5 L851.96 555.7 L854.96 555.7ZM867.63 552.9 L869.13 555.7 L872.13 555.7 L870.63 558.5 L872.13 561.3 L869.13 561.3 L867.63 564.1 L866.13 561.3 L863.14 561.3 L864.63 558.5 L863.14 555.7 L866.13 555.7ZM878.81 552.9 L880.31 555.7 L883.31 555.7 L881.81 558.5 L883.31 561.3 L880.31 561.3 L878.81 564.1 L877.31 561.3 L874.31 561.3 L875.81 558.5 L874.31 555.7 L877.31 555.7ZM889.99 552.9 L891.49 555.7 L894.49 555.7 L892.99 558.5 L894.49 561.3 L891.49 561.3 L889.99 564.1 L888.49 561.3 L885.49 561.3 L886.99 558.5 L885.49 555.7 L888.49 555.7ZM901.17 552.9 L902.67 555.7 L905.66 555.7 L904.17 558.5 L905.66 561.3 L902.67 561.3 L901.17 564.1 L899.67 561.3 L896.67 561.3 L898.17 558.5 L896.67 555.7 L899.67 555.7ZM912.34 552.9 L913.84 555.7 L916.84 555.7 L915.34 558.5 L916.84 561.3 L913.84 561.3 L912.34 564.1 L910.85 561.3 L907.85 561.3 L909.35 558.5 L907.85 555.7 L910.85 555.7ZM923.52 552.9 L925.02 555.7 L928.02 555.7 L926.52 558.5 L928.02 561.3 L925.02 561.3 L923.52 564.1 L922.02 561.3 L919.02 561.3 L920.52 558.5 L919.02 555.7 L922.02 555.7ZM934.7 552.9 L936.2 555.7 L939.2 555.7 L937.7 558.5 L939.2 561.3 L936.2 561.3 L934.7 564.1 L933.2 561.3 L930.2 561.3 L931.7 558.5 L930.2 555.7 L933.2 555.7ZM945.88 552.9 L947.38 555.7 L950.38 555.7 L948.88 558.5 L950.38 561.3 L947.38 561.3 L945.88 564.1 L944.38 561.3 L941.38 561.3 L942.88 558.5 L941.38 555.7 L944.38 555.7ZM957.06 552.9 L958.55 555.7 L961.55 555.7 L960.05 558.5 L961.55 561.3 L958.55 561.3 L957.06 564.1 L955.56 561.3 L952.56 561.3 L954.06 558.5 L952.56 555.7 L955.56 555.7ZM968.23 553 L969.73 555.8 L972.73 555.8 L971.23 558.6 L972.73 561.4 L969.73 561.4 L968.23 564.2 L966.73 561.4 L963.74 561.4 L965.23 558.6 L963.74 555.8 L966.73 555.8ZM979.41 553.7 L980.91 556.5 L983.91 556.5 L982.41 559.3 L983.91 562.1 L980.91 562.1 L979.41 564.9 L977.91 562.1 L974.91 562.1 L976.41 559.3 L974.91 556.5 L977.91 556.5ZM990.59 555.9 L992.09 558.7 L995.09 558.7 L993.59 561.5 L995.09 564.3 L992.09 564.3 L990.59 567.1 L989.09 564.3 L986.09 564.3 L987.59 561.5 L986.09 558.7 L989.09 558.7ZM1001.77 558.4 L1003.27 561.2 L1006.26 561.2 L1004.77 564 L1006.26 566.8 L1003.27 566.8 L1001.77 569.6 L1000.27 566.8 L997.27 566.8 L998.77 564 L997.27 561.2 L1000.27 561.2ZM1012.94 561.2 L1014.44 564 L1017.44 564 L1015.94 566.8 L1017.44 569.6 L1014.44 569.6 L1012.94 572.4 L1011.45 569.6 L1008.45 569.6 L1009.95 566.8 L1008.45 564 L1011.45 564ZM1024.12 565.2 L1025.62 568 L1028.62 568 L1027.12 570.8 L1028.62 573.6 L1025.62 573.6 L1024.12 576.4 L1022.62 573.6 L1019.62 573.6 L1021.12 570.8 L1019.62 568 L1022.62 568ZM1035.3 570.3 L1036.8 573.1 L1039.8 573.1 L1038.3 575.9 L1039.8 578.7 L1036.8 578.7 L1035.3 581.5 L1033.8 578.7 L1030.8 578.7 L1032.3 575.9 L1030.8 573.1 L1033.8 573.1ZM1046.48 576.1 L1047.98 578.9 L1050.98 578.9 L1049.48 581.7 L1050.98 584.5 L1047.98 584.5 L1046.48 587.3 L1044.98 584.5 L1041.98 584.5 L1043.48 581.7 L1041.98 578.9 L1044.98 578.9ZM1057.66 583.5 L1059.15 586.3 L1062.15 586.3 L1060.65 589.1 L1062.15 591.9 L1059.15 591.9 L1057.66 594.7 L1056.16 591.9 L1053.16 591.9 L1054.66 589.1 L1053.16 586.3 L1056.16 586.3ZM1068.83 592.1 L1070.33 594.9 L1073.33 594.9 L1071.83 597.7 L1073.33 600.5 L1070.33 600.5 L1068.83 603.3 L1067.33 600.5 L1064.34 600.5 L1065.83 597.7 L1064.34 594.9 L1067.33 594.9ZM1080.01 601.8 L1081.51 604.6 L1084.51 604.6 L1083.01 607.4 L1084.51 610.2 L1081.51 610.2 L1080.01 613 L1078.51 610.2 L1075.51 610.2 L1077.01 607.4 L1075.51 604.6 L1078.51 604.6ZM1091.19 613.3 L1092.69 616.1 L1095.69 616.1 L1094.19 618.9 L1095.69 621.7 L1092.69 621.7 L1091.19 624.5 L1089.69 621.7 L1086.69 621.7 L1088.19 618.9 L1086.69 616.1 L1089.69 616.1ZM1102.37 627.2 L1103.87 630 L1106.86 630 L1105.37 632.8 L1106.86 635.6 L1103.87 635.6 L1102.37 638.4 L1100.87 635.6 L1097.87 635.6 L1099.37 632.8 L1097.87 630 L1100.87 630ZM1113.54 643 L1115.04 645.8 L1118.04 645.8 L1116.54 648.6 L1118.04 651.4 L1115.04 651.4 L1113.54 654.2 L1112.05 651.4 L1109.05 651.4 L1110.55 648.6 L1109.05 645.8 L1112.05 645.8ZM1124.72 661.1 L1126.22 663.9 L1129.22 663.9 L1127.72 666.7 L1129.22 669.5 L1126.22 669.5 L1124.72 672.3 L1123.22 669.5 L1120.22 669.5 L1121.72 666.7 L1120.22 663.9 L1123.22 663.9ZM1135.9 680.7 L1137.4 683.5 L1140.4 683.5 L1138.9 686.3 L1140.4 689.1 L1137.4 689.1 L1135.9 691.9 L1134.4 689.1 L1131.4 689.1 L1132.9 686.3 L1131.4 683.5 L1134.4 683.5ZM1147.08 701.5 L1148.58 704.3 L1151.58 704.3 L1150.08 707.1 L1151.58 709.9 L1148.58 709.9 L1147.08 712.7 L1145.58 709.9 L1142.58 709.9 L1144.08 707.1 L1142.58 704.3 L1145.58 704.3ZM1158.26 726.1 L1159.75 728.9 L1162.75 728.9 L1161.25 731.7 L1162.75 734.5 L1159.75 734.5 L1158.26 737.3 L1156.76 734.5 L1153.76 734.5 L1155.26 731.7 L1153.76 728.9 L1156.76 728.9ZM1169.43 752.3 L1170.93 755.1 L1173.93 755.1 L1172.43 757.9 L1173.93 760.7 L1170.93 760.7 L1169.43 763.5 L1167.93 760.7 L1164.94 760.7 L1166.43 757.9 L1164.94 755.1 L1167.93 755.1ZM1180.61 780.9 L1182.11 783.7 L1185.11 783.7 L1183.61 786.5 L1185.11 789.3 L1182.11 789.3 L1180.61 792.1 L1179.11 789.3 L1176.11 789.3 L1177.61 786.5 L1176.11 783.7 L1179.11 783.7ZM1191.79 811.7 L1193.29 814.5 L1196.29 814.5 L1194.79 817.3 L1196.29 820.1 L1193.29 820.1 L1191.79 822.9 L1190.29 820.1 L1187.29 820.1 L1188.79 817.3 L1187.29 814.5 L1190.29 814.5ZM1202.97 843.8 L1204.47 846.6 L1207.46 846.6 L1205.97 849.4 L1207.46 852.2 L1204.47 852.2 L1202.97 855 L1201.47 852.2 L1198.47 852.2 L1199.97 849.4 L1198.47 846.6 L1201.47 846.6Z" stroke="#0000ff" stroke-width="2.3" fill="#0000ff" stroke-miterlimit="10"/>
<rect x="734.5" y="789.5" width="139" height="157" fill="#fff" stroke="#000" stroke-width="1" shape-rendering="crispEdges"/>
<path d="M740 799.15H770.9" stroke="#ff0000" stroke-width="2.2" stroke-dasharray="6.2 2.4" fill="none"/>
<text transform="translate(774.4 803.15) scale(0.8857 1)" font-size="11" text-anchor="start" stroke="#000" stroke-width="0.15" >TB = 6000 (AWGN)</text>
<path d="M740 814.45H770.9" stroke="#0000ff" stroke-width="2.5" fill="none"/>
<path d="M755.65 821.05 L750.35 811.15 L760.95 811.15Z" stroke="#0000ff" stroke-width="2.3" fill="none" stroke-miterlimit="10"/>
<text transform="translate(774.4 818.45) scale(0.8857 1)" font-size="11" text-anchor="start" stroke="#000" stroke-width="0.15" >TB = 6000 (estimated)</text>
<path d="M740 829.75H770.9" stroke="#ff0000" stroke-width="2.2" stroke-dasharray="6.2 2.4" fill="none"/>
<text transform="translate(774.4 833.75) scale(0.8857 1)" font-size="11" text-anchor="start" stroke="#000" stroke-width="0.15" >TB = 4000 (AWGN)</text>
<path d="M740 845.05H770.9" stroke="#0000ff" stroke-width="2.5" fill="none"/>
<path d="M755.65 838.45 L750.35 848.35 L760.95 848.35Z" stroke="#0000ff" stroke-width="2.3" fill="none" stroke-miterlimit="10"/>
<text transform="translate(774.4 849.05) scale(0.8857 1)" font-size="11" text-anchor="start" stroke="#000" stroke-width="0.15" >TB = 4000 (estimated)</text>
<path d="M740 860.35H770.9" stroke="#ff0000" stroke-width="2.2" stroke-dasharray="6.2 2.4" fill="none"/>
<text transform="translate(774.4 864.35) scale(0.8857 1)" font-size="11" text-anchor="start" stroke="#000" stroke-width="0.15" >TB = 2560 (AWGN)</text>
<path d="M740 875.65H770.9" stroke="#0000ff" stroke-width="2.5" fill="none"/>
<path d="M752.26 871.65h6.77v8h-6.77Z" stroke="#0000ff" stroke-width="2.3" fill="none" stroke-miterlimit="10"/>
<text transform="translate(774.4 879.65) scale(0.8857 1)" font-size="11" text-anchor="start" stroke="#000" stroke-width="0.15" >TB = 2560 (estimated)</text>
<path d="M740 890.95H770.9" stroke="#ff0000" stroke-width="2.2" stroke-dasharray="6.2 2.4" fill="none"/>
<text transform="translate(774.4 894.95) scale(0.8857 1)" font-size="11" text-anchor="start" stroke="#000" stroke-width="0.15" >TB = 1024 (AWGN)</text>
<path d="M740 906.25H770.9" stroke="#0000ff" stroke-width="2.5" fill="none"/>
<path d="M750.44 906.25h10.42M755.65 900.55v11.4" stroke="#0000ff" stroke-width="2.3" fill="none" stroke-miterlimit="10"/>
<text transform="translate(774.4 910.25) scale(0.8857 1)" font-size="11" text-anchor="start" stroke="#000" stroke-width="0.15" >TB = 1024 (estimated)</text>
<path d="M740 921.55H770.9" stroke="#ff0000" stroke-width="2.2" stroke-dasharray="6.2 2.4" fill="none"/>
<text transform="translate(774.4 925.55) scale(0.8857 1)" font-size="11" text-anchor="start" stroke="#000" stroke-width="0.15" >TB = 512 (AWGN)</text>
<path d="M740 936.85H770.9" stroke="#0000ff" stroke-width="2.5" fill="none"/>
<path d="M755.65 931.25 L757.15 934.05 L760.15 934.05 L758.65 936.85 L760.15 939.65 L757.15 939.65 L755.65 942.45 L754.15 939.65 L751.15 939.65 L752.65 936.85 L751.15 934.05 L754.15 934.05Z" stroke="#0000ff" stroke-width="2.9" fill="none" stroke-miterlimit="10"/>
<text transform="translate(774.4 940.85) scale(0.8857 1)" font-size="11" text-anchor="start" stroke="#000" stroke-width="0.15" >TB = 512 (estimated)</text>
<text transform="translate(733.7 961) scale(0.8440200000000001 1)" font-size="11" text-anchor="middle" stroke="#000" stroke-width="0.15" >10</text>
<text transform="translate(789.59 961) scale(0.8440200000000001 1)" font-size="11" text-anchor="middle" stroke="#000" stroke-width="0.15" >10.5</text>
<text transform="translate(845.48 961) scale(0.8440200000000001 1)" font-size="11" text-anchor="middle" stroke="#000" stroke-width="0.15" >11</text>
<text transform="translate(901.37 961) scale(0.8440200000000001 1)" font-size="11" text-anchor="middle" stroke="#000" stroke-width="0.15" >11.5</text>
<text transform="translate(957.26 961) scale(0.8440200000000001 1)" font-size="11" text-anchor="middle" stroke="#000" stroke-width="0.15" >12</text>
<text transform="translate(1013.14 961) scale(0.8440200000000001 1)" font-size="11" text-anchor="middle" stroke="#000" stroke-width="0.15" >12.5</text>
<text transform="translate(1069.03 961) scale(0.8440200000000001 1)" font-size="11" text-anchor="middle" stroke="#000" stroke-width="0.15" >13</text>
<text transform="translate(1124.92 961) scale(0.8440200000000001 1)" font-size="11" text-anchor="middle" stroke="#000" stroke-width="0.15" >13.5</text>
<text transform="translate(1180.81 961) scale(0.8440200000000001 1)" font-size="11" text-anchor="middle" stroke="#000" stroke-width="0.15" >14</text>
<text transform="translate(1236.7 961) scale(0.8440200000000001 1)" font-size="11" text-anchor="middle" stroke="#000" stroke-width="0.15" >14.5</text>
<text transform="translate(713.08 562) scale(0.8440200000000001 1)" font-size="11" text-anchor="start" stroke="#000" stroke-width="0.15" >10</text>
<text transform="translate(723.1 556) scale(0.85 1)" font-size="7.5" text-anchor="start" stroke="#000" stroke-width="0.15" >0</text>
<text transform="translate(713.08 692) scale(0.8440200000000001 1)" font-size="11" text-anchor="start" stroke="#000" stroke-width="0.15" >10</text>
<text transform="translate(723.1 686) scale(0.85 1)" font-size="7.5" text-anchor="start" stroke="#000" stroke-width="0.15" >-1</text>
<text transform="translate(713.08 822) scale(0.8440200000000001 1)" font-size="11" text-anchor="start" stroke="#000" stroke-width="0.15" >10</text>
<text transform="translate(723.1 816) scale(0.85 1)" font-size="7.5" text-anchor="start" stroke="#000" stroke-width="0.15" >-2</text>
<text transform="translate(713.08 952) scale(0.8440200000000001 1)" font-size="11" text-anchor="start" stroke="#000" stroke-width="0.15" >10</text>
<text transform="translate(723.1 946) scale(0.85 1)" font-size="7.5" text-anchor="start" stroke="#000" stroke-width="0.15" >-3</text>
<text transform="translate(984.5 975) scale(0.85444 1)" font-size="11" text-anchor="middle" stroke="#000" stroke-width="0.15" >SNR</text>
<text transform="translate(707 753.5) rotate(-90) scale(0.9 1)" font-size="11" text-anchor="middle" stroke="#000" stroke-width="0.15">BLER</text>
<text x="913.6" y="1038.9" font-family="'Liberation Serif', serif" font-size="26.3" textLength="117.7" lengthAdjust="spacingAndGlyphs">d) MCS 20</text>
</g>
</svg>
</div>
</body></html>
